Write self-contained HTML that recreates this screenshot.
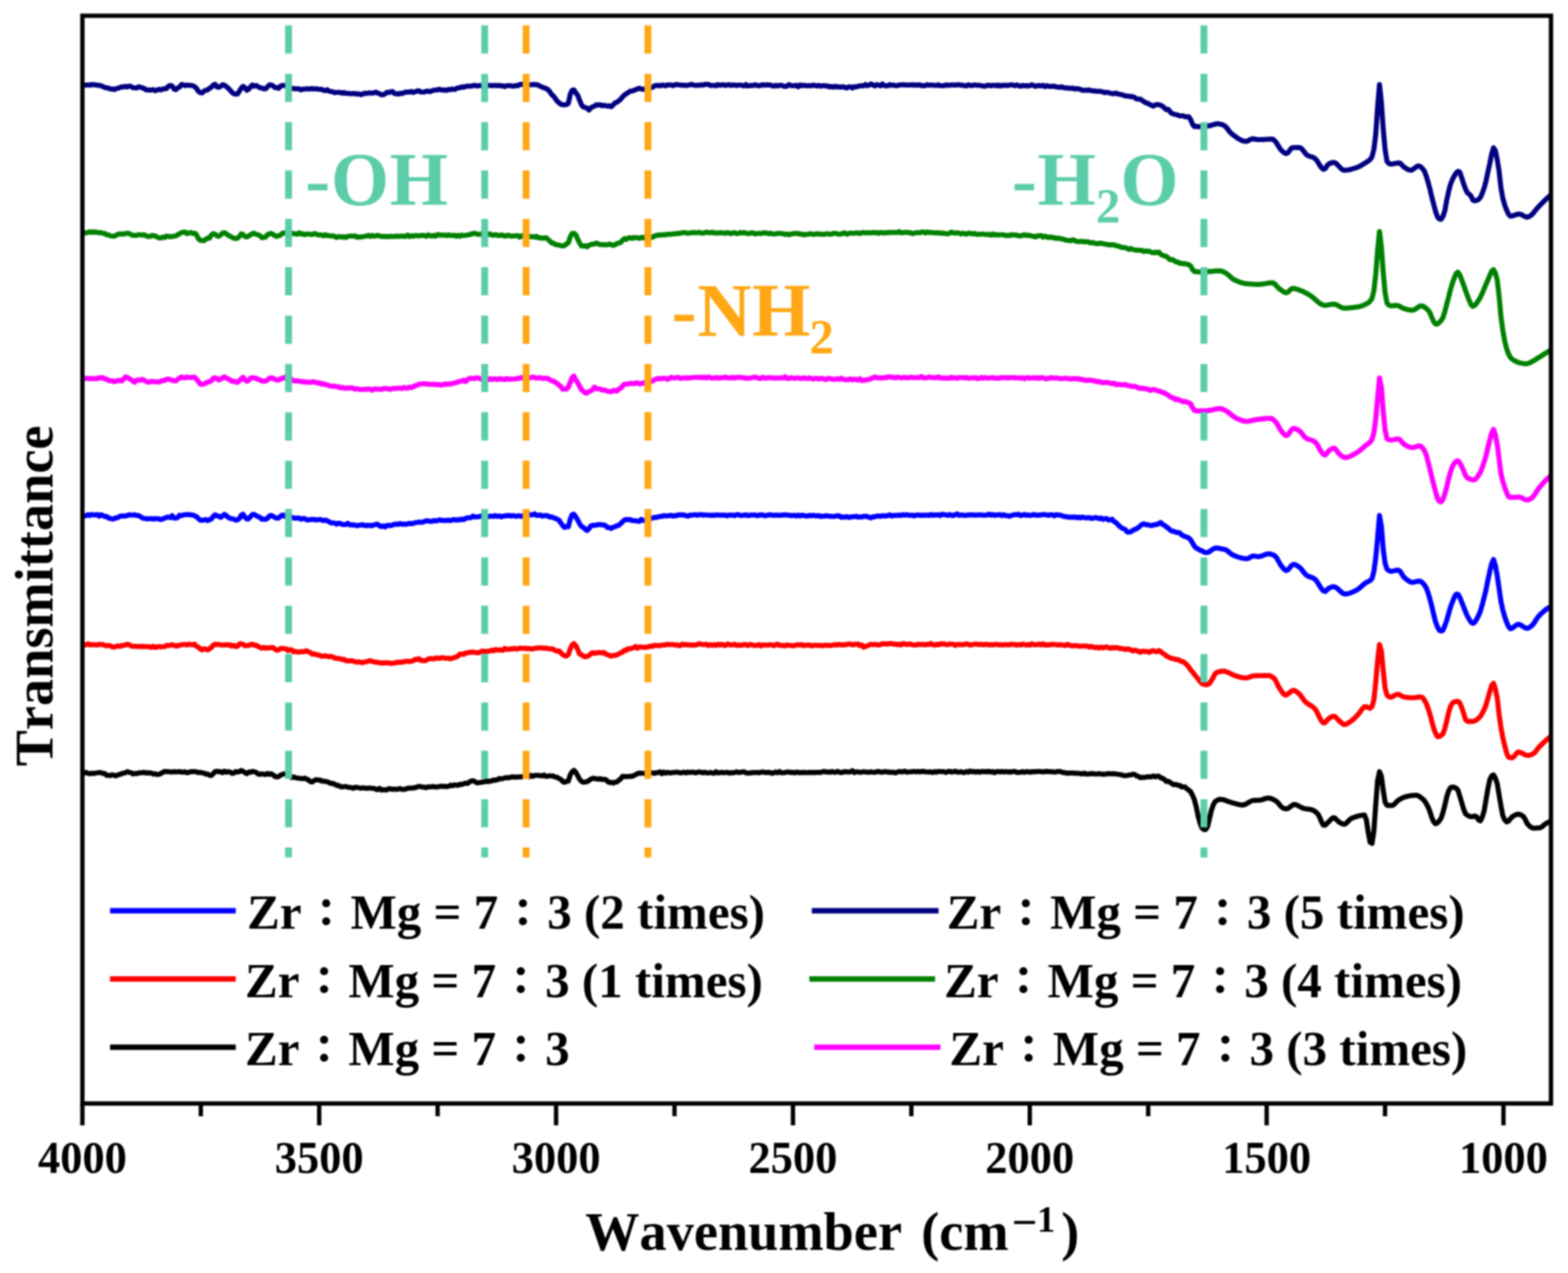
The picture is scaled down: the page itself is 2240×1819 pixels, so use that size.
<!DOCTYPE html>
<html lang="en">
<head>
<meta charset="utf-8">
<title>Transmittance vs Wavenumber</title>
<style>
html,body{margin:0;padding:0;background:#fff;}
body{width:2240px;height:1819px;overflow:hidden;}
svg{display:block;filter:blur(1px);}
text{font-family:"Liberation Serif","Noto Serif CJK SC","Noto Sans CJK JP",serif;font-weight:bold;font-kerning:none;font-variant-ligatures:none;}
.tick{font-size:66.5px;text-anchor:middle;fill:#000;}
.leg{font-size:70px;fill:#000;}
.axl{font-size:77.6px;fill:#000;}
.ann{font-size:107px;letter-spacing:1px;}
.cj{font-family:"Noto Serif CJK SC","Noto Sans CJK JP",serif;font-weight:bold;font-size:64.5px;}
</style>
</head>
<body>
<svg width="2240" height="1819" viewBox="0 0 2240 1819">
<rect x="0" y="0" width="2240" height="1819" fill="#ffffff"/>

<g fill="none" stroke-linejoin="round" stroke-linecap="butt">
<path d="M117.7,1104.1 L120.4,1104.4 L123.0,1103.7 L125.7,1105.0 L128.4,1105.6 L131.1,1104.9 L133.7,1105.2 L136.4,1104.7 L139.1,1104.3 L141.7,1103.8 L144.4,1104.1 L147.1,1105.2 L149.7,1105.3 L152.4,1107.8 L155.1,1107.9 L157.8,1108.1 L160.4,1107.1 L163.1,1107.9 L165.8,1108.7 L168.4,1107.2 L171.1,1106.5 L173.8,1105.5 L176.4,1104.7 L179.1,1104.2 L181.8,1102.7 L184.5,1103.7 L187.1,1104.0 L189.8,1105.9 L192.5,1105.1 L195.1,1105.5 L197.8,1104.6 L200.5,1104.1 L203.1,1104.2 L205.8,1103.6 L208.5,1104.6 L211.2,1104.1 L213.8,1104.6 L216.5,1104.7 L219.2,1106.2 L221.8,1105.5 L224.5,1106.7 L227.2,1106.3 L229.8,1105.3 L232.5,1103.7 L235.2,1102.3 L237.9,1102.7 L240.5,1102.6 L243.2,1103.0 L245.9,1103.1 L248.5,1102.7 L251.2,1102.8 L253.9,1103.0 L256.5,1102.5 L259.2,1103.2 L261.9,1103.3 L264.6,1102.9 L267.2,1104.2 L269.9,1103.4 L272.6,1102.7 L275.2,1102.6 L277.9,1102.7 L280.6,1102.8 L283.2,1104.1 L285.9,1103.5 L288.6,1104.4 L291.3,1104.7 L293.9,1106.2 L296.6,1105.9 L299.3,1107.7 L301.9,1108.2 L304.6,1105.5 L307.3,1102.5 L309.9,1102.0 L312.6,1102.8 L315.3,1102.6 L318.0,1104.1 L320.6,1101.9 L323.3,1103.5 L326.0,1102.7 L328.6,1103.1 L331.3,1104.9 L334.0,1104.8 L336.6,1102.6 L339.3,1103.2 L342.0,1102.6 L344.7,1100.9 L347.3,1102.2 L350.0,1104.2 L352.7,1105.4 L355.3,1103.2 L358.0,1103.4 L360.7,1102.2 L363.3,1102.8 L366.0,1103.7 L368.7,1105.9 L371.4,1106.4 L374.0,1105.7 L376.7,1106.2 L379.4,1106.7 L382.0,1105.1 L384.7,1106.5 L387.4,1105.5 L390.0,1107.2 L392.7,1109.4 L395.4,1110.1 L398.1,1109.7 L400.7,1107.8 L403.4,1106.4 L406.1,1105.8 L408.7,1105.8 L411.4,1107.9 L414.1,1108.5 L416.7,1111.2 L419.4,1110.2 L422.1,1111.2 L424.8,1111.8 L427.4,1112.0 L430.1,1112.5 L432.8,1112.7 L435.4,1111.8 L438.1,1113.5 L440.8,1114.5 L443.4,1117.0 L446.1,1117.3 L448.8,1115.4 L451.5,1114.0 L454.1,1114.6 L456.8,1114.5 L459.5,1116.0 L462.1,1116.2 L464.8,1116.6 L467.5,1117.0 L470.1,1118.2 L472.8,1119.6 L475.5,1119.4 L478.2,1120.6 L480.8,1122.3 L483.5,1122.2 L486.2,1124.1 L488.8,1124.4 L491.5,1124.0 L494.2,1123.8 L496.8,1125.0 L499.5,1125.0 L502.2,1125.6 L504.9,1126.4 L507.5,1124.8 L510.2,1125.3 L512.9,1125.8 L515.5,1126.3 L518.2,1125.9 L520.9,1125.9 L523.5,1126.5 L526.2,1126.1 L528.9,1126.0 L531.6,1126.5 L534.2,1126.5 L536.9,1127.7 L539.6,1128.4 L542.2,1126.4 L544.9,1129.0 L547.6,1128.3 L550.2,1128.6 L552.9,1128.6 L555.6,1126.8 L558.3,1127.4 L560.9,1127.9 L563.6,1127.5 L566.3,1128.1 L568.9,1127.5 L571.6,1126.7 L574.3,1128.0 L576.9,1128.1 L579.6,1127.5 L582.3,1126.3 L585.0,1126.2 L587.6,1126.2 L590.3,1125.7 L593.0,1125.6 L595.6,1124.5 L598.3,1123.7 L601.0,1124.0 L603.6,1124.7 L606.3,1124.8 L609.0,1125.6 L611.7,1124.3 L614.3,1124.4 L617.0,1124.1 L619.7,1123.9 L622.3,1124.6 L625.0,1124.3 L627.7,1123.9 L630.3,1123.3 L633.0,1123.8 L635.7,1123.5 L638.4,1124.1 L641.0,1123.5 L643.7,1121.9 L646.4,1122.8 L649.0,1121.5 L651.7,1121.7 L654.4,1122.1 L657.0,1120.6 L659.7,1121.0 L662.4,1119.9 L665.1,1119.0 L667.7,1119.6 L670.4,1117.5 L673.1,1116.0 L675.7,1115.5 L678.4,1116.8 L681.1,1118.6 L683.7,1118.5 L686.4,1118.0 L689.1,1117.5 L691.8,1117.4 L694.4,1115.9 L697.1,1117.0 L699.8,1116.0 L702.4,1116.0 L705.1,1114.5 L707.8,1114.8 L710.4,1114.2 L713.1,1112.4 L715.8,1112.9 L718.5,1112.5 L721.1,1111.5 L723.8,1111.2 L726.5,1111.3 L729.1,1110.7 L731.8,1109.9 L734.5,1110.6 L737.1,1110.3 L739.8,1110.2 L742.5,1110.0 L745.2,1110.1 L747.8,1109.5 L750.5,1109.1 L753.2,1109.0 L755.8,1110.0 L758.5,1108.0 L761.2,1109.4 L763.8,1108.0 L766.5,1107.8 L769.2,1108.0 L771.9,1108.3 L774.5,1108.8 L777.2,1107.3 L779.9,1109.3 L782.5,1109.1 L785.2,1108.5 L787.9,1108.8 L790.5,1108.8 L793.2,1110.3 L795.9,1110.6 L798.6,1112.5 L801.2,1113.6 L803.9,1116.8 L806.6,1117.8 L809.2,1116.6 L811.9,1116.1 L814.6,1107.3 L817.2,1102.8 L819.9,1100.8 L822.6,1103.7 L825.3,1108.3 L827.9,1113.3 L830.6,1116.5 L833.3,1117.7 L835.9,1117.3 L838.6,1117.0 L841.3,1115.2 L843.9,1113.5 L846.6,1112.1 L849.3,1112.3 L852.0,1113.0 L854.6,1113.5 L857.3,1112.5 L860.0,1113.9 L862.6,1113.5 L865.3,1113.9 L868.0,1116.6 L870.6,1118.2 L873.3,1117.9 L876.0,1119.0 L878.7,1117.5 L881.3,1117.4 L884.0,1115.0 L886.7,1113.0 L889.3,1109.4 L892.0,1109.6 L894.7,1109.5 L897.3,1109.7 L900.0,1109.2 L902.7,1109.3 L905.4,1108.2 L908.0,1106.9 L910.7,1105.4 L913.4,1104.7 L916.0,1105.0 L918.7,1105.0 L921.4,1105.1 L924.0,1104.4 L926.7,1104.1 L929.4,1104.2 L932.1,1104.5 L934.7,1105.1 L937.4,1104.1 L940.1,1104.1 L942.7,1102.8 L945.4,1105.4 L948.1,1103.1 L950.7,1104.9 L953.4,1103.5 L956.1,1104.4 L958.8,1104.3 L961.4,1103.8 L964.1,1103.7 L966.8,1103.2 L969.4,1103.8 L972.1,1104.5 L974.8,1104.0 L977.4,1103.3 L980.1,1104.5 L982.8,1103.1 L985.5,1103.9 L988.1,1103.3 L990.8,1103.3 L993.5,1104.4 L996.1,1103.5 L998.8,1102.9 L1001.5,1103.5 L1004.1,1104.3 L1006.8,1103.4 L1009.5,1104.5 L1012.2,1104.4 L1014.8,1103.8 L1017.5,1104.5 L1020.2,1104.9 L1022.8,1102.6 L1025.5,1104.5 L1028.2,1104.2 L1030.8,1103.6 L1033.5,1104.2 L1036.2,1104.0 L1038.9,1103.5 L1041.5,1104.7 L1044.2,1103.9 L1046.9,1104.5 L1049.5,1103.7 L1052.2,1102.8 L1054.9,1103.9 L1057.5,1103.7 L1060.2,1103.0 L1062.9,1102.8 L1065.6,1104.2 L1068.2,1104.6 L1070.9,1104.6 L1073.6,1104.1 L1076.2,1103.8 L1078.9,1103.9 L1081.6,1103.8 L1084.2,1104.3 L1086.9,1103.5 L1089.6,1103.0 L1092.3,1103.7 L1094.9,1103.9 L1097.6,1103.6 L1100.3,1103.8 L1102.9,1105.1 L1105.6,1104.3 L1108.3,1103.0 L1110.9,1104.2 L1113.6,1102.5 L1116.3,1104.2 L1119.0,1104.1 L1121.6,1103.8 L1124.3,1103.2 L1127.0,1103.2 L1129.6,1104.0 L1132.3,1103.4 L1135.0,1104.3 L1137.6,1103.4 L1140.3,1103.6 L1143.0,1104.3 L1145.7,1103.8 L1148.3,1103.7 L1151.0,1104.0 L1153.7,1104.0 L1156.3,1103.7 L1159.0,1103.9 L1161.7,1103.6 L1164.3,1103.8 L1167.0,1103.5 L1169.7,1103.6 L1172.4,1103.8 L1175.0,1102.7 L1177.7,1102.4 L1180.4,1103.1 L1183.0,1103.1 L1185.7,1103.5 L1188.4,1102.5 L1191.0,1103.3 L1193.7,1103.5 L1196.4,1102.2 L1199.1,1103.4 L1201.7,1104.0 L1204.4,1103.2 L1207.1,1102.6 L1209.7,1102.8 L1212.4,1103.1 L1215.1,1102.8 L1217.7,1101.2 L1220.4,1104.0 L1223.1,1102.8 L1225.8,1103.0 L1228.4,1103.6 L1231.1,1103.2 L1233.8,1102.8 L1236.4,1103.0 L1239.1,1103.4 L1241.8,1103.4 L1244.4,1102.9 L1247.1,1103.5 L1249.8,1103.5 L1252.5,1102.7 L1255.1,1102.4 L1257.8,1103.2 L1260.5,1103.4 L1263.1,1102.7 L1265.8,1102.7 L1268.5,1103.3 L1271.1,1103.1 L1273.8,1103.8 L1276.5,1103.3 L1279.2,1104.4 L1281.8,1103.3 L1284.5,1102.4 L1287.2,1102.8 L1289.8,1102.9 L1292.5,1101.9 L1295.2,1103.3 L1297.8,1103.0 L1300.5,1102.9 L1303.2,1102.6 L1305.9,1102.3 L1308.5,1102.8 L1311.2,1102.4 L1313.9,1102.9 L1316.5,1102.4 L1319.2,1102.1 L1321.9,1103.0 L1324.5,1103.0 L1327.2,1103.2 L1329.9,1102.9 L1332.6,1103.8 L1335.2,1102.5 L1337.9,1103.5 L1340.6,1102.3 L1343.2,1102.5 L1345.9,1102.6 L1348.6,1102.7 L1351.2,1103.8 L1353.9,1102.5 L1356.6,1102.1 L1359.3,1103.3 L1361.9,1102.8 L1364.6,1101.9 L1367.3,1103.1 L1369.9,1103.4 L1372.6,1102.6 L1375.3,1103.8 L1377.9,1103.8 L1380.6,1102.4 L1383.3,1103.4 L1386.0,1101.6 L1388.6,1102.9 L1391.3,1102.4 L1394.0,1103.4 L1396.6,1102.3 L1399.3,1103.4 L1402.0,1102.3 L1404.6,1102.6 L1407.3,1102.4 L1410.0,1103.0 L1412.7,1102.0 L1415.3,1103.2 L1418.0,1102.4 L1420.7,1104.2 L1423.3,1102.7 L1426.0,1102.4 L1428.7,1103.1 L1431.3,1102.3 L1434.0,1103.2 L1436.7,1102.5 L1439.4,1103.1 L1442.0,1102.8 L1444.7,1103.1 L1447.4,1102.4 L1450.0,1102.4 L1452.7,1103.7 L1455.4,1103.6 L1458.0,1103.4 L1460.7,1102.5 L1463.4,1103.6 L1466.1,1102.6 L1468.7,1102.7 L1471.4,1103.4 L1474.1,1102.7 L1476.7,1102.8 L1479.4,1102.6 L1482.1,1102.4 L1484.7,1102.4 L1487.4,1102.6 L1490.1,1102.9 L1492.8,1102.6 L1495.4,1102.1 L1498.1,1102.7 L1500.8,1102.7 L1503.4,1102.8 L1506.1,1103.1 L1508.8,1103.0 L1511.4,1102.3 L1514.1,1102.3 L1516.8,1103.2 L1519.5,1104.0 L1522.1,1104.2 L1524.8,1105.0 L1527.5,1104.5 L1530.1,1104.6 L1532.8,1104.7 L1535.5,1104.8 L1538.1,1104.8 L1540.8,1105.0 L1543.5,1105.4 L1546.2,1106.0 L1548.8,1104.7 L1551.5,1106.2 L1554.2,1105.9 L1556.8,1105.9 L1559.5,1105.4 L1562.2,1105.7 L1564.8,1105.9 L1567.5,1106.0 L1570.2,1105.4 L1572.9,1106.0 L1575.5,1106.3 L1578.2,1106.2 L1580.9,1106.1 L1583.5,1105.3 L1586.2,1105.7 L1588.9,1105.8 L1591.5,1105.5 L1594.2,1106.0 L1596.9,1106.3 L1599.6,1106.7 L1602.2,1107.3 L1604.9,1108.0 L1607.6,1108.3 L1610.2,1108.0 L1612.9,1107.5 L1615.6,1107.2 L1618.2,1106.4 L1620.9,1106.5 L1623.6,1108.7 L1626.3,1109.2 L1628.9,1111.3 L1631.6,1110.7 L1634.3,1110.9 L1636.9,1110.5 L1639.6,1109.8 L1642.3,1110.2 L1644.9,1110.1 L1647.6,1108.8 L1650.3,1110.1 L1653.0,1109.0 L1655.6,1109.2 L1658.3,1111.5 L1661.0,1112.3 L1663.6,1113.9 L1666.3,1116.7 L1669.0,1116.4 L1671.6,1117.9 L1674.3,1119.8 L1677.0,1121.3 L1679.7,1120.8 L1682.3,1122.1 L1685.0,1122.0 L1687.7,1124.4 L1690.3,1124.3 L1693.0,1124.6 L1695.7,1127.2 L1698.3,1129.0 L1701.0,1131.5 L1703.7,1136.6 L1706.4,1143.2 L1709.0,1153.3 L1711.7,1166.5 L1714.4,1176.4 L1717.0,1183.0 L1719.7,1185.3 L1722.4,1185.4 L1725.0,1181.4 L1727.7,1170.6 L1730.4,1158.2 L1733.1,1150.5 L1735.7,1145.5 L1738.4,1143.8 L1741.1,1142.3 L1743.7,1142.2 L1746.4,1142.5 L1749.1,1143.1 L1751.7,1144.1 L1754.4,1145.1 L1757.1,1146.1 L1759.8,1146.9 L1762.4,1147.6 L1765.1,1148.4 L1767.8,1149.1 L1770.4,1149.8 L1773.1,1150.2 L1775.8,1150.3 L1778.4,1149.6 L1781.1,1148.2 L1783.8,1146.6 L1786.5,1145.0 L1789.1,1144.0 L1791.8,1143.7 L1794.5,1143.6 L1797.1,1143.5 L1799.8,1143.3 L1802.5,1142.9 L1805.1,1142.0 L1807.8,1141.0 L1810.5,1140.4 L1813.2,1140.4 L1815.8,1141.1 L1818.5,1142.2 L1821.2,1143.6 L1823.8,1145.3 L1826.5,1148.1 L1829.2,1151.5 L1831.8,1154.0 L1834.5,1155.2 L1837.2,1155.8 L1839.9,1155.3 L1842.5,1153.4 L1845.2,1151.3 L1847.9,1149.7 L1850.5,1149.7 L1853.2,1150.6 L1855.9,1152.0 L1858.5,1153.5 L1861.2,1154.8 L1863.9,1155.5 L1866.6,1155.9 L1869.2,1156.2 L1871.9,1156.6 L1874.6,1157.2 L1877.2,1158.5 L1879.9,1160.5 L1882.6,1163.1 L1885.2,1167.7 L1887.9,1174.4 L1890.6,1179.1 L1893.3,1178.9 L1895.9,1176.4 L1898.6,1173.8 L1901.3,1171.0 L1903.9,1168.7 L1906.6,1168.7 L1909.3,1171.1 L1911.9,1173.9 L1914.6,1175.6 L1917.3,1177.1 L1920.0,1177.8 L1922.6,1176.8 L1925.3,1174.2 L1928.0,1171.3 L1930.6,1169.4 L1933.3,1168.4 L1936.0,1167.4 L1938.6,1166.5 L1941.3,1165.8 L1944.0,1165.2 L1946.7,1164.8 L1949.3,1164.6 L1952.0,1171.8 L1954.7,1189.9 L1957.3,1203.5 L1960.0,1205.1 L1962.7,1187.6 L1965.3,1150.3 L1968.0,1115.3 L1970.7,1102.7 L1973.4,1109.3 L1976.0,1128.9 L1978.7,1146.1 L1981.4,1150.8 L1984.0,1150.8 L1986.7,1150.8 L1989.4,1150.8 L1992.0,1149.2 L1994.7,1146.2 L1997.4,1143.6 L2000.1,1142.0 L2002.7,1140.6 L2005.4,1139.3 L2008.1,1138.4 L2010.7,1137.7 L2013.4,1137.2 L2016.1,1136.8 L2018.7,1136.5 L2021.4,1136.3 L2024.1,1136.4 L2026.8,1137.5 L2029.4,1139.3 L2032.1,1141.4 L2034.8,1144.1 L2037.4,1148.0 L2040.1,1152.9 L2042.8,1159.9 L2045.4,1168.1 L2048.1,1174.2 L2050.8,1177.0 L2053.5,1175.7 L2056.1,1173.0 L2058.8,1169.0 L2061.5,1160.6 L2064.1,1150.5 L2066.8,1138.6 L2069.5,1130.0 L2072.1,1125.7 L2074.8,1124.6 L2077.5,1125.1 L2080.2,1126.3 L2082.8,1129.0 L2085.5,1137.7 L2088.2,1146.9 L2090.8,1155.9 L2093.5,1162.7 L2096.2,1164.8 L2098.8,1166.2 L2101.5,1167.0 L2104.2,1166.8 L2106.9,1165.9 L2109.5,1167.2 L2112.2,1171.7 L2114.9,1172.9 L2117.5,1167.7 L2120.2,1158.6 L2122.9,1142.6 L2125.5,1127.6 L2128.2,1114.4 L2130.9,1108.7 L2133.6,1107.3 L2136.2,1111.8 L2138.9,1119.9 L2141.6,1136.0 L2144.2,1151.5 L2146.9,1165.6 L2149.6,1171.6 L2152.2,1174.4 L2154.9,1173.4 L2157.6,1170.0 L2160.3,1167.1 L2162.9,1165.5 L2165.6,1164.1 L2168.3,1163.3 L2170.9,1163.6 L2173.6,1164.9 L2176.3,1166.8 L2178.9,1170.9 L2181.6,1176.6 L2184.3,1179.7 L2187.0,1182.0 L2189.6,1183.2 L2192.3,1183.3 L2195.0,1183.2 L2197.6,1183.0 L2200.3,1182.8 L2203.0,1181.4 L2205.6,1178.8 L2208.3,1176.8 L2211.0,1175.3 L2213.7,1174.1 L2215.7,1173.3" stroke="#000000" stroke-width="7.2"/>
<path d="M117.7,923.1 L120.4,921.7 L123.0,921.4 L125.7,920.0 L128.4,921.5 L131.1,921.2 L133.7,921.0 L136.4,921.5 L139.1,921.6 L141.7,920.7 L144.4,920.8 L147.1,921.1 L149.7,922.2 L152.4,922.8 L155.1,922.3 L157.8,922.9 L160.4,924.2 L163.1,924.7 L165.8,923.5 L168.4,922.9 L171.1,923.7 L173.8,922.4 L176.4,922.1 L179.1,921.6 L181.8,920.7 L184.5,921.2 L187.1,923.2 L189.8,923.4 L192.5,923.7 L195.1,923.5 L197.8,923.8 L200.5,923.6 L203.1,923.8 L205.8,923.7 L208.5,924.0 L211.2,924.1 L213.8,924.2 L216.5,925.0 L219.2,923.4 L221.8,925.2 L224.5,924.4 L227.2,923.8 L229.8,924.3 L232.5,924.0 L235.2,924.0 L237.9,922.1 L240.5,922.3 L243.2,922.1 L245.9,921.3 L248.5,922.0 L251.2,923.1 L253.9,922.6 L256.5,922.1 L259.2,921.2 L261.9,921.0 L264.6,920.9 L267.2,921.6 L269.9,920.4 L272.6,921.0 L275.2,921.4 L277.9,920.4 L280.6,923.5 L283.2,924.6 L285.9,926.9 L288.6,928.6 L291.3,927.0 L293.9,927.4 L296.6,928.7 L299.3,927.1 L301.9,925.1 L304.6,921.9 L307.3,920.6 L309.9,920.8 L312.6,920.8 L315.3,921.6 L318.0,921.7 L320.6,921.7 L323.3,921.2 L326.0,921.6 L328.6,921.4 L331.3,923.3 L334.0,922.1 L336.6,923.8 L339.3,923.5 L342.0,920.2 L344.7,919.9 L347.3,920.8 L350.0,922.7 L352.7,922.3 L355.3,922.2 L358.0,920.9 L360.7,920.7 L363.3,922.1 L366.0,921.8 L368.7,923.8 L371.4,925.1 L374.0,926.2 L376.7,925.0 L379.4,926.3 L382.0,925.7 L384.7,925.9 L387.4,925.4 L390.0,925.3 L392.7,927.3 L395.4,929.2 L398.1,928.5 L400.7,926.7 L403.4,926.5 L406.1,927.0 L408.7,927.0 L411.4,929.7 L414.1,928.2 L416.7,928.8 L419.4,931.2 L422.1,930.9 L424.8,931.6 L427.4,931.6 L430.1,931.1 L432.8,931.4 L435.4,930.9 L438.1,929.9 L440.8,931.5 L443.4,932.5 L446.1,934.8 L448.8,934.2 L451.5,935.5 L454.1,935.8 L456.8,936.3 L459.5,937.8 L462.1,937.3 L464.8,937.1 L467.5,937.8 L470.1,938.5 L472.8,937.8 L475.5,938.7 L478.2,940.3 L480.8,940.6 L483.5,940.8 L486.2,941.4 L488.8,942.3 L491.5,942.1 L494.2,944.2 L496.8,944.2 L499.5,944.5 L502.2,944.0 L504.9,944.7 L507.5,945.8 L510.2,945.9 L512.9,945.7 L515.5,946.5 L518.2,946.8 L520.9,945.9 L523.5,945.5 L526.2,944.7 L528.9,944.0 L531.6,945.1 L534.2,945.6 L536.9,946.4 L539.6,946.3 L542.2,946.9 L544.9,947.5 L547.6,947.2 L550.2,947.4 L552.9,946.8 L555.6,947.4 L558.3,947.9 L560.9,947.6 L563.6,947.5 L566.3,946.4 L568.9,946.7 L571.6,945.8 L574.3,946.4 L576.9,945.4 L579.6,945.1 L582.3,944.8 L585.0,945.3 L587.6,944.7 L590.3,944.1 L593.0,942.4 L595.6,942.4 L598.3,941.2 L601.0,943.7 L603.6,943.7 L606.3,944.1 L609.0,943.5 L611.7,941.8 L614.3,941.1 L617.0,941.2 L619.7,941.7 L622.3,940.1 L625.0,940.4 L627.7,940.8 L630.3,939.8 L633.0,939.8 L635.7,940.5 L638.4,940.7 L641.0,940.4 L643.7,941.4 L646.4,940.2 L649.0,939.7 L651.7,938.7 L654.4,937.3 L657.0,934.6 L659.7,934.6 L662.4,935.0 L665.1,933.0 L667.7,932.8 L670.4,932.2 L673.1,931.8 L675.7,931.7 L678.4,932.2 L681.1,932.6 L683.7,932.6 L686.4,931.5 L689.1,930.1 L691.8,931.0 L694.4,930.6 L697.1,930.7 L699.8,930.2 L702.4,928.9 L705.1,929.9 L707.8,928.1 L710.4,928.6 L713.1,928.9 L715.8,928.7 L718.5,929.1 L721.1,926.5 L723.8,927.9 L726.5,927.9 L729.1,927.1 L731.8,927.5 L734.5,926.4 L737.1,927.4 L739.8,927.2 L742.5,926.2 L745.2,926.3 L747.8,926.6 L750.5,926.2 L753.2,927.2 L755.8,926.6 L758.5,927.3 L761.2,927.1 L763.8,926.4 L766.5,926.2 L769.2,925.8 L771.9,925.8 L774.5,925.8 L777.2,926.5 L779.9,925.9 L782.5,926.7 L785.2,927.1 L787.9,927.1 L790.5,927.8 L793.2,929.4 L795.9,930.3 L798.6,930.0 L801.2,932.9 L803.9,935.5 L806.6,936.9 L809.2,937.5 L811.9,935.3 L814.6,927.2 L817.2,921.7 L819.9,919.7 L822.6,922.6 L825.3,928.0 L827.9,934.3 L830.6,935.6 L833.3,937.4 L835.9,938.5 L838.6,938.2 L841.3,936.6 L843.9,934.3 L846.6,932.5 L849.3,933.5 L852.0,933.1 L854.6,932.3 L857.3,932.7 L860.0,932.9 L862.6,932.4 L865.3,934.6 L868.0,935.4 L870.6,936.7 L873.3,937.4 L876.0,936.6 L878.7,936.4 L881.3,935.7 L884.0,934.5 L886.7,932.8 L889.3,932.1 L892.0,929.2 L894.7,929.2 L897.3,926.9 L900.0,927.2 L902.7,926.3 L905.4,925.3 L908.0,923.8 L910.7,926.2 L913.4,924.4 L916.0,924.4 L918.7,925.0 L921.4,924.8 L924.0,924.8 L926.7,924.3 L929.4,923.0 L932.1,923.8 L934.7,922.1 L937.4,922.3 L940.1,922.4 L942.7,922.7 L945.4,921.8 L948.1,921.6 L950.7,921.6 L953.4,920.6 L956.1,921.2 L958.8,921.0 L961.4,920.9 L964.1,921.6 L966.8,921.3 L969.4,922.4 L972.1,922.3 L974.8,920.3 L977.4,921.4 L980.1,920.8 L982.8,921.7 L985.5,921.4 L988.1,921.9 L990.8,921.5 L993.5,921.8 L996.1,921.1 L998.8,919.8 L1001.5,920.6 L1004.1,920.8 L1006.8,921.0 L1009.5,920.7 L1012.2,922.3 L1014.8,921.2 L1017.5,922.1 L1020.2,921.1 L1022.8,922.3 L1025.5,920.6 L1028.2,921.7 L1030.8,920.6 L1033.5,921.7 L1036.2,922.4 L1038.9,920.4 L1041.5,920.9 L1044.2,921.6 L1046.9,921.3 L1049.5,920.6 L1052.2,922.2 L1054.9,921.5 L1057.5,922.3 L1060.2,921.7 L1062.9,920.9 L1065.6,921.3 L1068.2,922.4 L1070.9,920.8 L1073.6,921.3 L1076.2,922.0 L1078.9,922.3 L1081.6,922.2 L1084.2,920.8 L1086.9,923.0 L1089.6,921.6 L1092.3,921.7 L1094.9,921.8 L1097.6,921.6 L1100.3,921.2 L1102.9,921.6 L1105.6,922.6 L1108.3,921.0 L1110.9,920.4 L1113.6,922.2 L1116.3,922.1 L1119.0,922.3 L1121.6,922.9 L1124.3,921.5 L1127.0,922.0 L1129.6,922.3 L1132.3,922.7 L1135.0,922.6 L1137.6,921.5 L1140.3,921.2 L1143.0,921.8 L1145.7,921.0 L1148.3,922.7 L1151.0,921.8 L1153.7,921.8 L1156.3,921.5 L1159.0,923.0 L1161.7,922.2 L1164.3,921.8 L1167.0,922.4 L1169.7,922.0 L1172.4,922.4 L1175.0,922.8 L1177.7,921.8 L1180.4,922.2 L1183.0,922.1 L1185.7,922.4 L1188.4,922.0 L1191.0,921.6 L1193.7,921.1 L1196.4,921.6 L1199.1,920.7 L1201.7,921.6 L1204.4,921.2 L1207.1,921.4 L1209.7,920.7 L1212.4,920.4 L1215.1,920.3 L1217.7,921.5 L1220.4,920.7 L1223.1,920.7 L1225.8,920.2 L1228.4,922.4 L1231.1,921.6 L1233.8,924.9 L1236.4,923.5 L1239.1,923.0 L1241.8,921.3 L1244.4,920.7 L1247.1,921.2 L1249.8,920.7 L1252.5,921.1 L1255.1,921.6 L1257.8,921.2 L1260.5,919.7 L1263.1,920.2 L1265.8,920.1 L1268.5,920.3 L1271.1,919.6 L1273.8,919.6 L1276.5,920.4 L1279.2,920.4 L1281.8,921.1 L1284.5,920.6 L1287.2,921.7 L1289.8,919.7 L1292.5,920.0 L1295.2,921.0 L1297.8,920.6 L1300.5,920.2 L1303.2,921.3 L1305.9,921.5 L1308.5,921.6 L1311.2,920.6 L1313.9,920.8 L1316.5,921.0 L1319.2,920.9 L1321.9,921.4 L1324.5,920.5 L1327.2,921.0 L1329.9,919.5 L1332.6,921.3 L1335.2,921.8 L1337.9,920.8 L1340.6,921.5 L1343.2,919.8 L1345.9,920.6 L1348.6,919.9 L1351.2,921.0 L1353.9,921.2 L1356.6,920.0 L1359.3,920.3 L1361.9,920.5 L1364.6,922.3 L1367.3,920.8 L1369.9,920.9 L1372.6,921.1 L1375.3,921.1 L1377.9,920.7 L1380.6,920.1 L1383.3,920.5 L1386.0,921.9 L1388.6,921.1 L1391.3,920.7 L1394.0,920.1 L1396.6,920.9 L1399.3,920.9 L1402.0,920.5 L1404.6,921.5 L1407.3,920.6 L1410.0,920.8 L1412.7,921.5 L1415.3,921.1 L1418.0,921.6 L1420.7,920.8 L1423.3,920.7 L1426.0,921.3 L1428.7,921.1 L1431.3,921.7 L1434.0,921.2 L1436.7,921.0 L1439.4,921.3 L1442.0,921.4 L1444.7,920.4 L1447.4,921.0 L1450.0,920.8 L1452.7,921.8 L1455.4,920.8 L1458.0,921.7 L1460.7,920.3 L1463.4,921.1 L1466.1,921.7 L1468.7,921.0 L1471.4,921.8 L1474.1,919.9 L1476.7,921.2 L1479.4,921.2 L1482.1,921.1 L1484.7,920.3 L1487.4,921.6 L1490.1,919.8 L1492.8,921.8 L1495.4,921.4 L1498.1,921.8 L1500.8,921.1 L1503.4,920.6 L1506.1,921.0 L1508.8,921.0 L1511.4,921.7 L1514.1,921.1 L1516.8,921.6 L1519.5,921.8 L1522.1,922.5 L1524.8,920.6 L1527.5,921.8 L1530.1,922.7 L1532.8,922.9 L1535.5,922.4 L1538.1,922.8 L1540.8,923.1 L1543.5,923.4 L1546.2,923.1 L1548.8,923.2 L1551.5,923.1 L1554.2,923.6 L1556.8,924.8 L1559.5,923.5 L1562.2,924.8 L1564.8,925.5 L1567.5,924.6 L1570.2,926.0 L1572.9,924.6 L1575.5,925.8 L1578.2,924.9 L1580.9,924.3 L1583.5,925.4 L1586.2,926.5 L1588.9,925.2 L1591.5,926.0 L1594.2,925.3 L1596.9,925.6 L1599.6,926.7 L1602.2,926.6 L1604.9,927.3 L1607.6,928.1 L1610.2,927.0 L1612.9,927.7 L1615.6,928.5 L1618.2,930.2 L1620.9,929.1 L1623.6,929.6 L1626.3,930.6 L1628.9,932.0 L1631.6,930.5 L1634.3,930.7 L1636.9,930.9 L1639.6,931.3 L1642.3,932.1 L1644.9,930.1 L1647.6,929.8 L1650.3,930.9 L1653.0,931.2 L1655.6,929.5 L1658.3,931.1 L1661.0,933.6 L1663.6,934.9 L1666.3,937.5 L1669.0,938.7 L1671.6,940.0 L1674.3,940.7 L1677.0,941.4 L1679.7,942.5 L1682.3,942.4 L1685.0,943.6 L1687.7,945.0 L1690.3,945.6 L1693.0,947.7 L1695.7,950.2 L1698.3,953.2 L1701.0,957.4 L1703.7,960.0 L1706.4,963.9 L1709.0,967.0 L1711.7,970.2 L1714.4,973.9 L1717.0,976.8 L1719.7,977.6 L1722.4,978.3 L1725.0,978.1 L1727.7,976.7 L1730.4,972.7 L1733.1,968.2 L1735.7,963.0 L1738.4,960.7 L1741.1,959.9 L1743.7,959.4 L1746.4,959.1 L1749.1,959.1 L1751.7,959.8 L1754.4,960.8 L1757.1,962.1 L1759.8,963.5 L1762.4,964.8 L1765.1,965.7 L1767.8,966.5 L1770.4,967.2 L1773.1,967.9 L1775.8,968.4 L1778.4,968.7 L1781.1,968.7 L1783.8,968.0 L1786.5,966.9 L1789.1,966.0 L1791.8,965.7 L1794.5,965.6 L1797.1,965.5 L1799.8,965.5 L1802.5,965.4 L1805.1,965.4 L1807.8,965.3 L1810.5,965.3 L1813.2,965.3 L1815.8,966.2 L1818.5,968.0 L1821.2,970.5 L1823.8,975.4 L1826.5,981.1 L1829.2,985.3 L1831.8,989.4 L1834.5,992.4 L1837.2,993.2 L1839.9,991.8 L1842.5,989.5 L1845.2,987.3 L1847.9,986.3 L1850.5,987.2 L1853.2,989.1 L1855.9,991.3 L1858.5,994.4 L1861.2,998.2 L1863.9,1001.8 L1866.6,1004.4 L1869.2,1006.2 L1871.9,1007.8 L1874.6,1009.5 L1877.2,1011.5 L1879.9,1014.8 L1882.6,1019.9 L1885.2,1025.5 L1887.9,1030.3 L1890.6,1033.1 L1893.3,1032.4 L1895.9,1029.0 L1898.6,1026.5 L1901.3,1024.7 L1903.9,1023.5 L1906.6,1023.6 L1909.3,1025.9 L1911.9,1028.8 L1914.6,1031.2 L1917.3,1033.8 L1920.0,1035.3 L1922.6,1034.9 L1925.3,1033.6 L1928.0,1031.9 L1930.6,1030.1 L1933.3,1027.9 L1936.0,1025.3 L1938.6,1022.5 L1941.3,1019.6 L1944.0,1015.8 L1946.7,1012.1 L1949.3,1009.8 L1952.0,1009.9 L1954.7,1011.1 L1957.3,1012.0 L1960.0,1009.6 L1962.7,1000.1 L1965.3,975.4 L1968.0,943.6 L1970.7,921.0 L1973.4,930.2 L1976.0,957.9 L1978.7,983.4 L1981.4,993.1 L1984.0,995.5 L1986.7,996.3 L1989.4,995.5 L1992.0,993.9 L1994.7,992.4 L1997.4,992.1 L2000.1,993.2 L2002.7,994.8 L2005.4,995.8 L2008.1,996.2 L2010.7,996.6 L2013.4,996.9 L2016.1,997.0 L2018.7,997.0 L2021.4,996.8 L2024.1,996.4 L2026.8,996.0 L2029.4,995.8 L2032.1,996.7 L2034.8,1000.3 L2037.4,1005.0 L2040.1,1012.2 L2042.8,1020.7 L2045.4,1030.6 L2048.1,1040.6 L2050.8,1047.7 L2053.5,1052.6 L2056.1,1052.4 L2058.8,1050.9 L2061.5,1048.4 L2064.1,1040.9 L2066.8,1029.8 L2069.5,1018.0 L2072.1,1009.5 L2074.8,1004.8 L2077.5,1003.0 L2080.2,1002.3 L2082.8,1002.1 L2085.5,1004.5 L2088.2,1011.1 L2090.8,1018.8 L2093.5,1028.1 L2096.2,1030.8 L2098.8,1030.8 L2101.5,1030.8 L2104.2,1030.8 L2106.9,1030.1 L2109.5,1028.5 L2112.2,1026.3 L2114.9,1023.5 L2117.5,1019.2 L2120.2,1013.8 L2122.9,1007.3 L2125.5,998.0 L2128.2,988.4 L2130.9,979.6 L2133.6,976.3 L2136.2,984.0 L2138.9,997.4 L2141.6,1021.2 L2144.2,1039.6 L2146.9,1054.0 L2149.6,1065.3 L2152.2,1075.7 L2154.9,1081.8 L2157.6,1082.6 L2160.3,1082.8 L2162.9,1081.0 L2165.6,1077.4 L2168.3,1074.7 L2170.9,1074.8 L2173.6,1075.8 L2176.3,1077.2 L2178.9,1078.6 L2181.6,1079.4 L2184.3,1079.4 L2187.0,1078.6 L2189.6,1077.4 L2192.3,1075.5 L2195.0,1072.2 L2197.6,1068.7 L2200.3,1065.8 L2203.0,1063.1 L2205.6,1060.6 L2208.3,1058.1 L2211.0,1055.8 L2213.7,1053.6 L2215.7,1052.0" stroke="#FF0000" stroke-width="7.2"/>
<path d="M117.7,738.1 L120.4,736.8 L123.0,736.9 L125.7,735.4 L128.4,736.6 L131.1,735.1 L133.7,735.9 L136.4,735.8 L139.1,735.3 L141.7,737.5 L144.4,735.5 L147.1,736.8 L149.7,738.1 L152.4,737.8 L155.1,740.4 L157.8,740.6 L160.4,741.9 L163.1,741.0 L165.8,740.0 L168.4,739.6 L171.1,737.7 L173.8,737.1 L176.4,737.4 L179.1,737.4 L181.8,736.4 L184.5,735.7 L187.1,736.0 L189.8,736.0 L192.5,735.7 L195.1,736.7 L197.8,736.7 L200.5,738.0 L203.1,740.0 L205.8,740.7 L208.5,741.1 L211.2,741.5 L213.8,741.0 L216.5,741.1 L219.2,741.6 L221.8,741.1 L224.5,741.2 L227.2,741.5 L229.8,742.4 L232.5,741.5 L235.2,740.4 L237.9,739.3 L240.5,738.8 L243.2,739.7 L245.9,736.8 L248.5,740.2 L251.2,740.3 L253.9,739.4 L256.5,736.2 L259.2,736.7 L261.9,735.9 L264.6,735.3 L267.2,735.5 L269.9,735.2 L272.6,735.8 L275.2,735.9 L277.9,736.9 L280.6,738.2 L283.2,740.7 L285.9,743.1 L288.6,743.3 L291.3,743.2 L293.9,742.3 L296.6,743.9 L299.3,742.6 L301.9,741.6 L304.6,737.9 L307.3,735.6 L309.9,737.3 L312.6,737.4 L315.3,739.3 L318.0,737.4 L320.6,735.0 L323.3,736.8 L326.0,739.2 L328.6,740.8 L331.3,741.3 L334.0,741.8 L336.6,743.1 L339.3,742.9 L342.0,740.9 L344.7,736.1 L347.3,734.8 L350.0,739.1 L352.7,741.6 L355.3,741.3 L358.0,738.1 L360.7,735.0 L363.3,735.0 L366.0,736.9 L368.7,738.2 L371.4,739.3 L374.0,742.0 L376.7,741.7 L379.4,742.2 L382.0,740.7 L384.7,737.3 L387.4,736.3 L390.0,737.9 L392.7,739.4 L395.4,740.5 L398.1,740.1 L400.7,737.8 L403.4,735.9 L406.1,737.6 L408.7,735.8 L411.4,737.6 L414.1,737.2 L416.7,739.3 L419.4,740.1 L422.1,740.4 L424.8,740.3 L427.4,740.2 L430.1,741.9 L432.8,740.8 L435.4,741.0 L438.1,742.9 L440.8,743.0 L443.4,742.3 L446.1,742.3 L448.8,742.2 L451.5,743.0 L454.1,742.7 L456.8,742.3 L459.5,743.0 L462.1,743.9 L464.8,743.2 L467.5,744.1 L470.1,745.5 L472.8,747.2 L475.5,747.0 L478.2,747.5 L480.8,749.0 L483.5,747.5 L486.2,748.0 L488.8,749.2 L491.5,749.6 L494.2,749.4 L496.8,747.7 L499.5,749.9 L502.2,750.1 L504.9,749.9 L507.5,750.5 L510.2,751.2 L512.9,750.5 L515.5,750.1 L518.2,749.8 L520.9,751.1 L523.5,750.7 L526.2,750.9 L528.9,750.6 L531.6,751.2 L534.2,750.2 L536.9,749.3 L539.6,749.0 L542.2,751.5 L544.9,752.4 L547.6,751.3 L550.2,753.0 L552.9,750.8 L555.6,750.6 L558.3,751.1 L560.9,750.2 L563.6,749.1 L566.3,748.8 L568.9,749.4 L571.6,748.0 L574.3,749.2 L576.9,748.7 L579.6,749.2 L582.3,748.6 L585.0,747.8 L587.6,748.4 L590.3,747.8 L593.0,746.8 L595.6,746.5 L598.3,746.1 L601.0,746.2 L603.6,746.1 L606.3,745.2 L609.0,744.1 L611.7,744.4 L614.3,744.8 L617.0,745.1 L619.7,743.8 L622.3,744.5 L625.0,744.0 L627.7,742.9 L630.3,743.4 L633.0,743.8 L635.7,743.7 L638.4,743.6 L641.0,743.4 L643.7,743.8 L646.4,742.8 L649.0,742.3 L651.7,743.3 L654.4,742.4 L657.0,742.9 L659.7,741.7 L662.4,742.6 L665.1,740.7 L667.7,739.9 L670.4,739.9 L673.1,739.6 L675.7,737.4 L678.4,738.7 L681.1,738.7 L683.7,738.3 L686.4,737.7 L689.1,736.5 L691.8,736.9 L694.4,737.3 L697.1,738.1 L699.8,737.7 L702.4,737.4 L705.1,737.8 L707.8,736.7 L710.4,737.9 L713.1,737.1 L715.8,738.4 L718.5,737.7 L721.1,737.1 L723.8,737.1 L726.5,736.4 L729.1,737.4 L731.8,736.7 L734.5,737.1 L737.1,737.8 L739.8,737.2 L742.5,737.1 L745.2,738.0 L747.8,736.5 L750.5,736.5 L753.2,735.6 L755.8,735.1 L758.5,736.0 L761.2,735.3 L763.8,734.2 L766.5,736.5 L769.2,736.5 L771.9,735.8 L774.5,737.4 L777.2,736.8 L779.9,736.8 L782.5,736.9 L785.2,738.8 L787.9,738.6 L790.5,739.6 L793.2,740.7 L795.9,741.8 L798.6,743.3 L801.2,747.4 L803.9,750.9 L806.6,753.7 L809.2,752.3 L811.9,752.6 L814.6,742.1 L817.2,735.6 L819.9,734.7 L822.6,738.7 L825.3,743.2 L827.9,748.2 L830.6,752.1 L833.3,753.6 L835.9,756.0 L838.6,758.0 L841.3,755.5 L843.9,751.6 L846.6,750.7 L849.3,750.6 L852.0,750.3 L854.6,749.6 L857.3,749.7 L860.0,750.0 L862.6,750.2 L865.3,751.3 L868.0,754.0 L870.6,753.9 L873.3,755.2 L876.0,753.2 L878.7,752.7 L881.3,751.1 L884.0,750.7 L886.7,748.2 L889.3,745.7 L892.0,743.1 L894.7,742.2 L897.3,742.8 L900.0,742.3 L902.7,743.7 L905.4,744.0 L908.0,744.1 L910.7,744.7 L913.4,745.0 L916.0,742.2 L918.7,743.6 L921.4,743.6 L924.0,741.8 L926.7,741.8 L929.4,741.2 L932.1,740.2 L934.7,739.3 L937.4,739.3 L940.1,738.7 L942.7,737.8 L945.4,737.9 L948.1,736.8 L950.7,737.1 L953.4,737.1 L956.1,736.9 L958.8,736.4 L961.4,737.4 L964.1,736.7 L966.8,736.8 L969.4,735.5 L972.1,735.9 L974.8,735.7 L977.4,735.9 L980.1,737.0 L982.8,737.5 L985.5,736.0 L988.1,736.1 L990.8,735.7 L993.5,735.5 L996.1,736.3 L998.8,735.6 L1001.5,735.2 L1004.1,736.2 L1006.8,735.7 L1009.5,736.0 L1012.2,736.0 L1014.8,736.4 L1017.5,736.2 L1020.2,736.4 L1022.8,735.8 L1025.5,735.8 L1028.2,736.1 L1030.8,736.0 L1033.5,736.2 L1036.2,736.1 L1038.9,737.2 L1041.5,735.8 L1044.2,736.2 L1046.9,736.0 L1049.5,736.8 L1052.2,735.5 L1054.9,735.3 L1057.5,736.7 L1060.2,736.5 L1062.9,736.2 L1065.6,735.6 L1068.2,736.8 L1070.9,736.4 L1073.6,735.8 L1076.2,735.8 L1078.9,735.8 L1081.6,737.0 L1084.2,736.1 L1086.9,735.6 L1089.6,735.9 L1092.3,736.9 L1094.9,736.6 L1097.6,735.9 L1100.3,735.6 L1102.9,736.0 L1105.6,736.5 L1108.3,736.1 L1110.9,736.1 L1113.6,736.5 L1116.3,736.1 L1119.0,735.8 L1121.6,735.7 L1124.3,736.0 L1127.0,736.1 L1129.6,736.8 L1132.3,736.7 L1135.0,736.2 L1137.6,737.4 L1140.3,736.0 L1143.0,737.3 L1145.7,736.1 L1148.3,736.6 L1151.0,737.3 L1153.7,737.4 L1156.3,736.4 L1159.0,737.0 L1161.7,736.3 L1164.3,736.9 L1167.0,737.3 L1169.7,736.7 L1172.4,738.0 L1175.0,737.5 L1177.7,737.6 L1180.4,736.9 L1183.0,737.3 L1185.7,737.6 L1188.4,738.0 L1191.0,738.0 L1193.7,737.4 L1196.4,737.2 L1199.1,737.1 L1201.7,739.2 L1204.4,738.7 L1207.1,738.9 L1209.7,738.1 L1212.4,739.5 L1215.1,738.6 L1217.7,738.5 L1220.4,738.2 L1223.1,737.7 L1225.8,739.0 L1228.4,738.7 L1231.1,738.7 L1233.8,737.9 L1236.4,737.6 L1239.1,738.1 L1241.8,739.3 L1244.4,739.9 L1247.1,738.3 L1249.8,738.3 L1252.5,737.3 L1255.1,737.4 L1257.8,737.8 L1260.5,736.8 L1263.1,737.1 L1265.8,737.5 L1268.5,736.4 L1271.1,735.7 L1273.8,737.3 L1276.5,736.6 L1279.2,736.4 L1281.8,736.4 L1284.5,736.1 L1287.2,736.6 L1289.8,735.4 L1292.5,736.2 L1295.2,735.5 L1297.8,736.1 L1300.5,736.5 L1303.2,736.0 L1305.9,737.2 L1308.5,736.1 L1311.2,735.7 L1313.9,736.3 L1316.5,736.2 L1319.2,736.3 L1321.9,736.1 L1324.5,736.0 L1327.2,736.6 L1329.9,735.1 L1332.6,736.5 L1335.2,735.7 L1337.9,736.0 L1340.6,735.5 L1343.2,736.8 L1345.9,734.8 L1348.6,735.2 L1351.2,735.7 L1353.9,736.4 L1356.6,735.2 L1359.3,736.3 L1361.9,736.6 L1364.6,735.4 L1367.3,734.4 L1369.9,736.4 L1372.6,735.8 L1375.3,735.9 L1377.9,736.6 L1380.6,736.4 L1383.3,735.6 L1386.0,736.0 L1388.6,735.4 L1391.3,736.2 L1394.0,735.8 L1396.6,736.2 L1399.3,735.5 L1402.0,736.0 L1404.6,736.1 L1407.3,736.2 L1410.0,735.9 L1412.7,734.6 L1415.3,736.2 L1418.0,735.1 L1420.7,736.5 L1423.3,735.8 L1426.0,735.8 L1428.7,735.4 L1431.3,736.9 L1434.0,735.4 L1436.7,736.7 L1439.4,736.8 L1442.0,737.7 L1444.7,736.7 L1447.4,735.8 L1450.0,735.3 L1452.7,735.4 L1455.4,734.9 L1458.0,736.7 L1460.7,736.0 L1463.4,735.2 L1466.1,736.3 L1468.7,735.9 L1471.4,736.5 L1474.1,736.1 L1476.7,735.2 L1479.4,735.9 L1482.1,736.4 L1484.7,735.9 L1487.4,735.9 L1490.1,735.1 L1492.8,735.5 L1495.4,735.9 L1498.1,736.3 L1500.8,735.5 L1503.4,735.6 L1506.1,737.1 L1508.8,735.4 L1511.4,736.0 L1514.1,735.9 L1516.8,736.9 L1519.5,737.8 L1522.1,738.3 L1524.8,738.4 L1527.5,739.3 L1530.1,738.8 L1532.8,739.3 L1535.5,738.5 L1538.1,739.8 L1540.8,738.9 L1543.5,740.1 L1546.2,738.8 L1548.8,739.7 L1551.5,739.8 L1554.2,739.8 L1556.8,739.7 L1559.5,740.8 L1562.2,740.2 L1564.8,739.4 L1567.5,740.0 L1570.2,741.2 L1572.9,740.2 L1575.5,742.2 L1578.2,741.3 L1580.9,740.9 L1583.5,743.1 L1586.2,742.7 L1588.9,741.8 L1591.5,745.3 L1594.2,746.5 L1596.9,749.6 L1599.6,752.2 L1602.2,754.3 L1604.9,755.5 L1607.6,756.7 L1610.2,760.2 L1612.9,760.3 L1615.6,759.9 L1618.2,757.8 L1620.9,756.7 L1623.6,755.7 L1626.3,753.6 L1628.9,751.6 L1631.6,749.3 L1634.3,748.5 L1636.9,749.8 L1639.6,749.7 L1642.3,750.7 L1644.9,751.0 L1647.6,750.2 L1650.3,749.6 L1653.0,749.3 L1655.6,747.8 L1658.3,746.7 L1661.0,749.5 L1663.6,750.7 L1666.3,752.9 L1669.0,754.8 L1671.6,757.3 L1674.3,758.9 L1677.0,759.4 L1679.7,760.5 L1682.3,760.9 L1685.0,761.3 L1687.7,763.8 L1690.3,765.7 L1693.0,766.7 L1695.7,767.6 L1698.3,768.8 L1701.0,771.3 L1703.7,776.1 L1706.4,780.6 L1709.0,783.3 L1711.7,784.5 L1714.4,786.3 L1717.0,787.0 L1719.7,788.8 L1722.4,789.5 L1725.0,789.3 L1727.7,788.3 L1730.4,786.2 L1733.1,784.4 L1735.7,783.2 L1738.4,783.2 L1741.1,783.3 L1743.7,784.0 L1746.4,784.5 L1749.1,785.0 L1751.7,785.9 L1754.4,787.8 L1757.1,790.2 L1759.8,792.3 L1762.4,793.6 L1765.1,794.6 L1767.8,795.6 L1770.4,796.4 L1773.1,797.2 L1775.8,797.7 L1778.4,798.1 L1781.1,798.3 L1783.8,797.7 L1786.5,796.1 L1789.1,794.7 L1791.8,794.6 L1794.5,795.0 L1797.1,795.3 L1799.8,795.1 L1802.5,794.4 L1805.1,793.4 L1807.8,792.3 L1810.5,791.6 L1813.2,791.3 L1815.8,791.8 L1818.5,792.9 L1821.2,794.3 L1823.8,797.1 L1826.5,801.9 L1829.2,806.8 L1831.8,810.2 L1834.5,813.4 L1837.2,815.2 L1839.9,814.3 L1842.5,811.2 L1845.2,807.8 L1847.9,806.3 L1850.5,806.9 L1853.2,808.4 L1855.9,810.3 L1858.5,812.6 L1861.2,816.0 L1863.9,819.5 L1866.6,822.1 L1869.2,823.5 L1871.9,824.5 L1874.6,825.4 L1877.2,826.7 L1879.9,829.0 L1882.6,832.8 L1885.2,837.3 L1887.9,841.4 L1890.6,844.4 L1893.3,845.2 L1895.9,842.6 L1898.6,840.4 L1901.3,839.2 L1903.9,838.4 L1906.6,838.5 L1909.3,839.9 L1911.9,842.1 L1914.6,844.7 L1917.3,847.0 L1920.0,848.5 L1922.6,848.8 L1925.3,848.4 L1928.0,847.6 L1930.6,846.7 L1933.3,845.5 L1936.0,844.2 L1938.6,842.9 L1941.3,841.0 L1944.0,838.7 L1946.7,836.3 L1949.3,834.0 L1952.0,832.3 L1954.7,831.0 L1957.3,829.5 L1960.0,826.8 L1962.7,816.4 L1965.3,797.6 L1968.0,768.5 L1970.7,736.6 L1973.4,752.2 L1976.0,784.5 L1978.7,805.0 L1981.4,813.1 L1984.0,815.4 L1986.7,816.3 L1989.4,816.0 L1992.0,815.5 L1994.7,814.9 L1997.4,814.6 L2000.1,816.1 L2002.7,820.3 L2005.4,824.6 L2008.1,827.0 L2010.7,829.0 L2013.4,830.8 L2016.1,831.8 L2018.7,832.0 L2021.4,831.5 L2024.1,830.8 L2026.8,830.4 L2029.4,830.7 L2032.1,832.7 L2034.8,835.8 L2037.4,839.8 L2040.1,847.0 L2042.8,856.3 L2045.4,866.1 L2048.1,878.0 L2050.8,888.5 L2053.5,895.7 L2056.1,900.5 L2058.8,901.9 L2061.5,900.5 L2064.1,893.9 L2066.8,886.4 L2069.5,876.7 L2072.1,867.6 L2074.8,860.5 L2077.5,853.6 L2080.2,849.0 L2082.8,849.0 L2085.5,853.6 L2088.2,860.5 L2090.8,867.0 L2093.5,873.9 L2096.2,880.1 L2098.8,884.9 L2101.5,889.1 L2104.2,890.8 L2106.9,889.0 L2109.5,884.8 L2112.2,879.5 L2114.9,873.1 L2117.5,864.1 L2120.2,853.7 L2122.9,842.6 L2125.5,829.4 L2128.2,816.7 L2130.9,805.6 L2133.6,799.6 L2136.2,807.9 L2138.9,822.5 L2141.6,840.9 L2144.2,859.2 L2146.9,871.6 L2149.6,881.2 L2152.2,888.7 L2154.9,895.2 L2157.6,898.3 L2160.3,897.5 L2162.9,895.6 L2165.6,893.5 L2168.3,892.1 L2170.9,892.4 L2173.6,893.8 L2176.3,895.6 L2178.9,897.2 L2181.6,897.8 L2184.3,897.0 L2187.0,895.1 L2189.6,892.8 L2192.3,889.1 L2195.0,884.7 L2197.6,881.0 L2200.3,878.3 L2203.0,875.7 L2205.6,873.3 L2208.3,871.1 L2211.0,869.3 L2213.7,867.9 L2215.7,867.0" stroke="#0000FF" stroke-width="7.2"/>
<path d="M117.7,540.4 L120.4,541.1 L123.0,540.5 L125.7,540.7 L128.4,541.2 L131.1,540.7 L133.7,541.1 L136.4,540.8 L139.1,541.2 L141.7,539.7 L144.4,539.8 L147.1,539.7 L149.7,541.4 L152.4,541.9 L155.1,543.6 L157.8,544.0 L160.4,544.1 L163.1,545.3 L165.8,544.4 L168.4,543.9 L171.1,543.3 L173.8,544.3 L176.4,542.1 L179.1,538.7 L181.8,539.3 L184.5,541.1 L187.1,542.2 L189.8,544.7 L192.5,546.0 L195.1,543.1 L197.8,543.0 L200.5,543.2 L203.1,542.2 L205.8,543.3 L208.5,544.9 L211.2,545.9 L213.8,546.0 L216.5,544.9 L219.2,545.2 L221.8,545.7 L224.5,545.3 L227.2,546.0 L229.8,544.7 L232.5,543.5 L235.2,543.7 L237.9,542.0 L240.5,541.7 L243.2,542.7 L245.9,543.2 L248.5,544.1 L251.2,544.0 L253.9,542.1 L256.5,540.2 L259.2,538.6 L261.9,539.6 L264.6,540.0 L267.2,538.9 L269.9,539.3 L272.6,539.4 L275.2,539.0 L277.9,539.2 L280.6,541.6 L283.2,544.9 L285.9,548.5 L288.6,549.2 L291.3,548.8 L293.9,547.2 L296.6,546.1 L299.3,545.4 L301.9,544.1 L304.6,540.3 L307.3,539.9 L309.9,541.1 L312.6,542.9 L315.3,541.8 L318.0,539.9 L320.6,538.5 L323.3,540.3 L326.0,541.4 L328.6,542.9 L331.3,544.8 L334.0,544.7 L336.6,545.7 L339.3,546.3 L342.0,544.0 L344.7,541.2 L347.3,539.1 L350.0,542.9 L352.7,544.7 L355.3,543.5 L358.0,540.1 L360.7,539.7 L363.3,540.3 L366.0,540.4 L368.7,542.3 L371.4,542.6 L374.0,544.4 L376.7,544.7 L379.4,544.4 L382.0,543.1 L384.7,540.6 L387.4,539.9 L390.0,540.5 L392.7,542.0 L395.4,543.0 L398.1,543.1 L400.7,541.2 L403.4,540.9 L406.1,539.2 L408.7,540.6 L411.4,541.1 L414.1,540.4 L416.7,542.3 L419.4,544.0 L422.1,544.3 L424.8,544.2 L427.4,544.5 L430.1,545.2 L432.8,545.3 L435.4,545.9 L438.1,545.7 L440.8,546.3 L443.4,546.2 L446.1,545.7 L448.8,545.8 L451.5,546.4 L454.1,547.4 L456.8,547.2 L459.5,548.9 L462.1,548.1 L464.8,549.5 L467.5,549.8 L470.1,551.2 L472.8,551.7 L475.5,552.0 L478.2,551.7 L480.8,552.3 L483.5,552.8 L486.2,554.2 L488.8,553.5 L491.5,554.5 L494.2,555.0 L496.8,554.2 L499.5,554.7 L502.2,553.9 L504.9,555.2 L507.5,556.1 L510.2,555.3 L512.9,556.3 L515.5,556.7 L518.2,556.5 L520.9,556.0 L523.5,556.4 L526.2,555.9 L528.9,556.0 L531.6,557.6 L534.2,555.9 L536.9,555.7 L539.6,556.2 L542.2,556.2 L544.9,556.4 L547.6,555.4 L550.2,555.2 L552.9,555.1 L555.6,556.1 L558.3,556.2 L560.9,555.0 L563.6,555.0 L566.3,555.2 L568.9,554.5 L571.6,554.6 L574.3,555.2 L576.9,553.7 L579.6,554.4 L582.3,554.6 L585.0,553.0 L587.6,554.0 L590.3,552.6 L593.0,551.1 L595.6,550.6 L598.3,549.1 L601.0,548.7 L603.6,548.5 L606.3,548.4 L609.0,548.6 L611.7,548.9 L614.3,549.5 L617.0,549.0 L619.7,549.4 L622.3,549.1 L625.0,549.7 L627.7,549.4 L630.3,550.3 L633.0,549.7 L635.7,548.5 L638.4,549.2 L641.0,548.6 L643.7,548.9 L646.4,547.7 L649.0,547.5 L651.7,546.8 L654.4,545.4 L657.0,545.0 L659.7,544.5 L662.4,543.1 L665.1,545.1 L667.7,542.6 L670.4,540.9 L673.1,540.4 L675.7,541.0 L678.4,540.6 L681.1,540.0 L683.7,540.2 L686.4,541.5 L689.1,541.6 L691.8,542.3 L694.4,542.0 L697.1,542.7 L699.8,540.9 L702.4,542.4 L705.1,541.5 L707.8,541.4 L710.4,542.5 L713.1,540.8 L715.8,541.8 L718.5,541.6 L721.1,542.5 L723.8,540.9 L726.5,541.9 L729.1,541.9 L731.8,541.5 L734.5,541.5 L737.1,541.3 L739.8,540.4 L742.5,540.6 L745.2,539.3 L747.8,540.5 L750.5,540.2 L753.2,538.7 L755.8,540.3 L758.5,539.5 L761.2,538.8 L763.8,539.4 L766.5,540.3 L769.2,540.0 L771.9,539.6 L774.5,540.8 L777.2,540.5 L779.9,540.6 L782.5,540.7 L785.2,542.7 L787.9,544.1 L790.5,544.4 L793.2,546.3 L795.9,547.9 L798.6,550.5 L801.2,552.2 L803.9,556.1 L806.6,556.0 L809.2,555.8 L811.9,553.4 L814.6,546.3 L817.2,539.9 L819.9,537.4 L822.6,543.0 L825.3,547.0 L827.9,551.8 L830.6,557.0 L833.3,558.8 L835.9,561.3 L838.6,561.6 L841.3,559.4 L843.9,558.6 L846.6,556.8 L849.3,553.2 L852.0,555.4 L854.6,555.4 L857.3,556.1 L860.0,557.3 L862.6,557.3 L865.3,557.7 L868.0,559.1 L870.6,559.3 L873.3,559.8 L876.0,557.8 L878.7,558.1 L881.3,558.8 L884.0,556.2 L886.7,554.7 L889.3,551.7 L892.0,549.0 L894.7,548.8 L897.3,548.6 L900.0,547.8 L902.7,547.9 L905.4,548.3 L908.0,547.4 L910.7,547.2 L913.4,548.3 L916.0,548.1 L918.7,547.0 L921.4,547.8 L924.0,547.0 L926.7,546.3 L929.4,544.9 L932.1,544.6 L934.7,542.6 L937.4,541.7 L940.1,540.7 L942.7,541.5 L945.4,540.7 L948.1,540.5 L950.7,540.8 L953.4,541.8 L956.1,540.8 L958.8,539.2 L961.4,540.0 L964.1,540.0 L966.8,539.5 L969.4,539.2 L972.1,540.8 L974.8,540.2 L977.4,540.2 L980.1,539.9 L982.8,540.1 L985.5,539.9 L988.1,539.7 L990.8,539.5 L993.5,539.0 L996.1,539.1 L998.8,539.5 L1001.5,539.0 L1004.1,539.8 L1006.8,539.0 L1009.5,540.0 L1012.2,538.7 L1014.8,539.8 L1017.5,540.3 L1020.2,540.1 L1022.8,539.3 L1025.5,540.4 L1028.2,539.6 L1030.8,539.8 L1033.5,539.6 L1036.2,538.6 L1038.9,540.0 L1041.5,539.9 L1044.2,540.1 L1046.9,539.1 L1049.5,540.2 L1052.2,539.3 L1054.9,539.0 L1057.5,539.1 L1060.2,539.9 L1062.9,539.5 L1065.6,540.7 L1068.2,540.3 L1070.9,540.5 L1073.6,539.7 L1076.2,539.2 L1078.9,538.9 L1081.6,539.8 L1084.2,540.7 L1086.9,540.7 L1089.6,539.0 L1092.3,540.2 L1094.9,540.4 L1097.6,539.4 L1100.3,540.1 L1102.9,539.7 L1105.6,540.2 L1108.3,540.3 L1110.9,540.0 L1113.6,540.1 L1116.3,539.8 L1119.0,540.3 L1121.6,538.3 L1124.3,540.6 L1127.0,540.9 L1129.6,539.6 L1132.3,540.3 L1135.0,540.8 L1137.6,540.0 L1140.3,540.1 L1143.0,540.5 L1145.7,541.0 L1148.3,539.7 L1151.0,540.7 L1153.7,540.9 L1156.3,539.8 L1159.0,540.8 L1161.7,541.6 L1164.3,540.7 L1167.0,540.7 L1169.7,541.7 L1172.4,540.5 L1175.0,540.8 L1177.7,541.8 L1180.4,542.1 L1183.0,540.5 L1185.7,541.1 L1188.4,541.6 L1191.0,542.1 L1193.7,541.7 L1196.4,541.2 L1199.1,542.1 L1201.7,540.4 L1204.4,541.9 L1207.1,542.4 L1209.7,542.7 L1212.4,542.4 L1215.1,541.3 L1217.7,542.8 L1220.4,542.0 L1223.1,542.1 L1225.8,543.1 L1228.4,541.3 L1231.1,543.8 L1233.8,543.1 L1236.4,543.1 L1239.1,542.4 L1241.8,542.1 L1244.4,540.9 L1247.1,539.8 L1249.8,538.6 L1252.5,539.8 L1255.1,539.7 L1257.8,540.1 L1260.5,539.8 L1263.1,539.7 L1265.8,539.7 L1268.5,538.7 L1271.1,538.4 L1273.8,539.5 L1276.5,539.1 L1279.2,539.8 L1281.8,538.8 L1284.5,539.2 L1287.2,540.0 L1289.8,539.6 L1292.5,539.1 L1295.2,539.9 L1297.8,539.8 L1300.5,539.0 L1303.2,539.2 L1305.9,539.7 L1308.5,539.5 L1311.2,539.5 L1313.9,539.3 L1316.5,538.0 L1319.2,540.0 L1321.9,539.9 L1324.5,539.6 L1327.2,538.6 L1329.9,539.4 L1332.6,539.7 L1335.2,539.6 L1337.9,539.7 L1340.6,538.4 L1343.2,540.1 L1345.9,540.1 L1348.6,540.1 L1351.2,540.5 L1353.9,539.9 L1356.6,540.6 L1359.3,539.0 L1361.9,540.2 L1364.6,539.7 L1367.3,540.6 L1369.9,539.5 L1372.6,539.5 L1375.3,539.5 L1377.9,540.1 L1380.6,539.4 L1383.3,540.4 L1386.0,540.3 L1388.6,539.9 L1391.3,540.0 L1394.0,539.5 L1396.6,541.1 L1399.3,540.4 L1402.0,539.3 L1404.6,540.6 L1407.3,539.3 L1410.0,540.2 L1412.7,540.4 L1415.3,539.8 L1418.0,539.6 L1420.7,540.2 L1423.3,540.4 L1426.0,540.2 L1428.7,540.3 L1431.3,539.2 L1434.0,540.0 L1436.7,539.5 L1439.4,540.1 L1442.0,539.5 L1444.7,539.6 L1447.4,539.5 L1450.0,539.9 L1452.7,539.9 L1455.4,540.0 L1458.0,540.5 L1460.7,539.6 L1463.4,541.1 L1466.1,539.9 L1468.7,539.7 L1471.4,540.4 L1474.1,540.0 L1476.7,539.9 L1479.4,540.4 L1482.1,539.5 L1484.7,540.9 L1487.4,539.5 L1490.1,539.9 L1492.8,541.0 L1495.4,541.1 L1498.1,540.6 L1500.8,539.6 L1503.4,540.2 L1506.1,540.1 L1508.8,540.2 L1511.4,540.4 L1514.1,540.8 L1516.8,541.2 L1519.5,540.8 L1522.1,540.3 L1524.8,540.9 L1527.5,541.1 L1530.1,541.6 L1532.8,540.9 L1535.5,541.2 L1538.1,541.3 L1540.8,541.2 L1543.5,542.3 L1546.2,542.0 L1548.8,543.1 L1551.5,543.3 L1554.2,543.1 L1556.8,543.4 L1559.5,543.4 L1562.2,544.1 L1564.8,544.5 L1567.5,545.5 L1570.2,545.0 L1572.9,546.4 L1575.5,546.6 L1578.2,546.8 L1580.9,546.3 L1583.5,546.8 L1586.2,547.7 L1588.9,548.1 L1591.5,547.6 L1594.2,549.7 L1596.9,549.1 L1599.6,549.3 L1602.2,550.1 L1604.9,549.7 L1607.6,549.3 L1610.2,550.9 L1612.9,551.0 L1615.6,551.9 L1618.2,552.4 L1620.9,551.9 L1623.6,552.8 L1626.3,554.3 L1628.9,555.1 L1631.6,554.6 L1634.3,555.1 L1636.9,555.6 L1639.6,555.9 L1642.3,557.6 L1644.9,557.4 L1647.6,556.4 L1650.3,557.0 L1653.0,558.4 L1655.6,558.6 L1658.3,559.7 L1661.0,560.9 L1663.6,561.6 L1666.3,563.2 L1669.0,564.8 L1671.6,566.7 L1674.3,568.4 L1677.0,568.9 L1679.7,571.1 L1682.3,570.2 L1685.0,571.6 L1687.7,573.0 L1690.3,574.1 L1693.0,573.6 L1695.7,574.7 L1698.3,575.8 L1701.0,577.1 L1703.7,582.7 L1706.4,586.4 L1709.0,586.9 L1711.7,587.3 L1714.4,587.1 L1717.0,586.9 L1719.7,587.4 L1722.4,586.9 L1725.0,587.2 L1727.7,586.1 L1730.4,586.2 L1733.1,585.3 L1735.7,584.8 L1738.4,584.2 L1741.1,584.0 L1743.7,583.8 L1746.4,584.6 L1749.1,585.8 L1751.7,587.2 L1754.4,588.8 L1757.1,590.9 L1759.8,593.2 L1762.4,595.3 L1765.1,597.0 L1767.8,598.2 L1770.4,599.4 L1773.1,600.5 L1775.8,601.4 L1778.4,601.9 L1781.1,602.0 L1783.8,601.8 L1786.5,601.3 L1789.1,600.7 L1791.8,600.1 L1794.5,599.7 L1797.1,599.3 L1799.8,599.0 L1802.5,598.7 L1805.1,598.4 L1807.8,598.1 L1810.5,598.0 L1813.2,597.8 L1815.8,597.8 L1818.5,599.1 L1821.2,601.6 L1823.8,604.6 L1826.5,609.3 L1829.2,614.2 L1831.8,617.7 L1834.5,620.7 L1837.2,622.5 L1839.9,621.4 L1842.5,617.7 L1845.2,613.8 L1847.9,612.1 L1850.5,612.6 L1853.2,613.8 L1855.9,615.4 L1858.5,617.6 L1861.2,621.2 L1863.9,624.6 L1866.6,626.5 L1869.2,627.6 L1871.9,628.4 L1874.6,629.3 L1877.2,630.5 L1879.9,632.8 L1882.6,636.8 L1885.2,641.6 L1887.9,646.1 L1890.6,649.3 L1893.3,650.2 L1895.9,647.3 L1898.6,643.7 L1901.3,641.9 L1903.9,640.6 L1906.6,640.5 L1909.3,643.5 L1911.9,647.4 L1914.6,649.8 L1917.3,652.0 L1920.0,653.5 L1922.6,653.8 L1925.3,653.3 L1928.0,652.3 L1930.6,651.1 L1933.3,649.6 L1936.0,648.1 L1938.6,646.6 L1941.3,644.7 L1944.0,642.6 L1946.7,640.3 L1949.3,637.9 L1952.0,635.7 L1954.7,633.9 L1957.3,631.6 L1960.0,627.9 L1962.7,618.4 L1965.3,599.4 L1968.0,568.6 L1970.7,540.1 L1973.4,553.4 L1976.0,586.8 L1978.7,614.6 L1981.4,626.9 L1984.0,628.3 L1986.7,628.8 L1989.4,628.5 L1992.0,628.0 L1994.7,627.4 L1997.4,627.1 L2000.1,628.4 L2002.7,631.8 L2005.4,634.6 L2008.1,636.2 L2010.7,637.6 L2013.4,638.7 L2016.1,639.4 L2018.7,639.5 L2021.4,638.8 L2024.1,637.8 L2026.8,637.1 L2029.4,637.5 L2032.1,640.0 L2034.8,643.7 L2037.4,649.8 L2040.1,659.9 L2042.8,670.7 L2045.4,681.4 L2048.1,692.6 L2050.8,702.5 L2053.5,712.2 L2056.1,716.2 L2058.8,717.0 L2061.5,713.4 L2064.1,705.6 L2066.8,695.3 L2069.5,683.8 L2072.1,674.6 L2074.8,666.7 L2077.5,662.1 L2080.2,659.2 L2082.8,658.4 L2085.5,661.5 L2088.2,666.6 L2090.8,672.4 L2093.5,679.3 L2096.2,682.6 L2098.8,684.1 L2101.5,685.2 L2104.2,685.7 L2106.9,685.3 L2109.5,682.8 L2112.2,679.2 L2114.9,674.6 L2117.5,668.0 L2120.2,660.0 L2122.9,651.2 L2125.5,639.9 L2128.2,628.8 L2130.9,618.9 L2133.6,613.4 L2136.2,620.9 L2138.9,634.9 L2141.6,656.1 L2144.2,676.7 L2146.9,688.0 L2149.6,696.4 L2152.2,703.5 L2154.9,709.5 L2157.6,710.8 L2160.3,710.7 L2162.9,710.6 L2165.6,710.4 L2168.3,710.3 L2170.9,710.3 L2173.6,711.2 L2176.3,712.6 L2178.9,714.0 L2181.6,714.5 L2184.3,713.9 L2187.0,712.3 L2189.6,710.3 L2192.3,706.9 L2195.0,702.5 L2197.6,698.5 L2200.3,695.3 L2203.0,692.1 L2205.6,689.1 L2208.3,686.3 L2211.0,683.7 L2213.7,681.2 L2215.7,679.5" stroke="#FF00FF" stroke-width="7.2"/>
<path d="M117.7,334.2 L120.4,333.0 L123.0,332.7 L125.7,332.3 L128.4,331.0 L131.1,332.2 L133.7,331.2 L136.4,332.2 L139.1,331.7 L141.7,332.8 L144.4,332.4 L147.1,333.3 L149.7,333.5 L152.4,335.5 L155.1,335.8 L157.8,337.0 L160.4,337.5 L163.1,337.4 L165.8,336.4 L168.4,334.6 L171.1,334.2 L173.8,334.6 L176.4,334.1 L179.1,334.1 L181.8,333.2 L184.5,333.5 L187.1,335.5 L189.8,336.2 L192.5,336.3 L195.1,336.5 L197.8,335.4 L200.5,335.5 L203.1,336.1 L205.8,335.4 L208.5,336.8 L211.2,338.0 L213.8,338.0 L216.5,336.6 L219.2,336.8 L221.8,337.1 L224.5,338.8 L227.2,340.0 L229.8,340.1 L232.5,338.7 L235.2,339.3 L237.9,337.2 L240.5,337.9 L243.2,338.2 L245.9,337.9 L248.5,337.5 L251.2,336.9 L253.9,335.6 L256.5,333.9 L259.2,332.4 L261.9,331.6 L264.6,331.8 L267.2,333.9 L269.9,332.7 L272.6,332.2 L275.2,333.7 L277.9,333.2 L280.6,335.0 L283.2,340.8 L285.9,343.2 L288.6,343.6 L291.3,344.0 L293.9,342.0 L296.6,340.2 L299.3,340.4 L301.9,335.8 L304.6,333.9 L307.3,334.8 L309.9,336.9 L312.6,337.6 L315.3,335.6 L318.0,333.0 L320.6,332.4 L323.3,334.1 L326.0,336.2 L328.6,337.4 L331.3,339.0 L334.0,340.3 L336.6,340.9 L339.3,340.3 L342.0,338.0 L344.7,334.2 L347.3,335.2 L350.0,337.9 L352.7,338.6 L355.3,337.0 L358.0,335.5 L360.7,333.7 L363.3,333.4 L366.0,335.0 L368.7,335.5 L371.4,336.7 L374.0,339.6 L376.7,339.2 L379.4,338.8 L382.0,335.4 L384.7,334.2 L387.4,333.5 L390.0,334.9 L392.7,336.9 L395.4,337.8 L398.1,336.7 L400.7,336.0 L403.4,333.4 L406.1,332.9 L408.7,332.7 L411.4,333.1 L414.1,332.6 L416.7,333.0 L419.4,333.9 L422.1,334.1 L424.8,334.7 L427.4,332.7 L430.1,334.3 L432.8,334.2 L435.4,335.4 L438.1,334.4 L440.8,334.5 L443.4,334.9 L446.1,335.2 L448.8,333.8 L451.5,334.3 L454.1,335.6 L456.8,335.6 L459.5,335.7 L462.1,336.9 L464.8,335.4 L467.5,336.7 L470.1,336.6 L472.8,337.4 L475.5,337.0 L478.2,337.8 L480.8,339.3 L483.5,338.2 L486.2,338.0 L488.8,338.9 L491.5,338.4 L494.2,339.4 L496.8,337.6 L499.5,337.5 L502.2,337.0 L504.9,337.7 L507.5,337.1 L510.2,339.2 L512.9,338.4 L515.5,338.6 L518.2,338.2 L520.9,337.8 L523.5,337.3 L526.2,336.3 L528.9,337.8 L531.6,336.4 L534.2,337.6 L536.9,337.0 L539.6,336.2 L542.2,337.3 L544.9,337.8 L547.6,337.9 L550.2,337.9 L552.9,338.2 L555.6,337.8 L558.3,337.6 L560.9,338.0 L563.6,337.9 L566.3,337.4 L568.9,337.9 L571.6,337.2 L574.3,337.6 L576.9,337.3 L579.6,337.9 L582.3,336.0 L585.0,338.1 L587.6,336.7 L590.3,337.7 L593.0,336.5 L595.6,336.7 L598.3,337.1 L601.0,336.5 L603.6,336.4 L606.3,336.6 L609.0,337.6 L611.7,335.6 L614.3,336.6 L617.0,337.4 L619.7,336.4 L622.3,337.5 L625.0,335.1 L627.7,335.6 L630.3,336.1 L633.0,335.9 L635.7,336.0 L638.4,336.7 L641.0,335.7 L643.7,336.5 L646.4,336.5 L649.0,336.2 L651.7,337.6 L654.4,336.1 L657.0,337.6 L659.7,335.9 L662.4,336.5 L665.1,336.4 L667.7,335.6 L670.4,335.5 L673.1,334.5 L675.7,333.6 L678.4,333.4 L681.1,334.5 L683.7,334.7 L686.4,335.0 L689.1,333.4 L691.8,335.5 L694.4,336.3 L697.1,335.2 L699.8,334.1 L702.4,335.6 L705.1,336.1 L707.8,335.3 L710.4,336.1 L713.1,336.6 L715.8,335.9 L718.5,336.2 L721.1,337.5 L723.8,336.6 L726.5,336.1 L729.1,337.1 L731.8,337.3 L734.5,337.0 L737.1,337.0 L739.8,336.7 L742.5,338.9 L745.2,336.8 L747.8,337.6 L750.5,338.0 L753.2,338.5 L755.8,337.7 L758.5,338.3 L761.2,338.0 L763.8,338.8 L766.5,337.7 L769.2,339.9 L771.9,339.7 L774.5,340.3 L777.2,340.2 L779.9,339.6 L782.5,341.7 L785.2,344.1 L787.9,347.1 L790.5,347.4 L793.2,349.3 L795.9,349.8 L798.6,350.1 L801.2,350.9 L803.9,351.5 L806.6,350.9 L809.2,348.5 L811.9,346.9 L814.6,338.4 L817.2,333.6 L819.9,333.3 L822.6,335.5 L825.3,341.7 L827.9,347.0 L830.6,351.3 L833.3,351.6 L835.9,351.0 L838.6,352.8 L841.3,350.5 L843.9,349.6 L846.6,348.8 L849.3,348.7 L852.0,347.2 L854.6,348.5 L857.3,349.4 L860.0,349.6 L862.6,349.7 L865.3,349.8 L868.0,349.5 L870.6,348.8 L873.3,349.6 L876.0,350.6 L878.7,349.6 L881.3,348.0 L884.0,347.2 L886.7,346.6 L889.3,343.2 L892.0,340.9 L894.7,342.1 L897.3,340.2 L900.0,339.6 L902.7,340.7 L905.4,339.3 L908.0,339.7 L910.7,339.9 L913.4,340.5 L916.0,339.1 L918.7,340.0 L921.4,338.5 L924.0,339.2 L926.7,339.1 L929.4,338.8 L932.1,339.3 L934.7,337.2 L937.4,336.6 L940.1,335.9 L942.7,335.6 L945.4,335.8 L948.1,335.4 L950.7,335.7 L953.4,334.5 L956.1,335.0 L958.8,334.7 L961.4,334.2 L964.1,334.2 L966.8,333.9 L969.4,333.4 L972.1,333.3 L974.8,332.3 L977.4,332.4 L980.1,332.8 L982.8,333.1 L985.5,333.0 L988.1,332.5 L990.8,332.1 L993.5,332.7 L996.1,332.5 L998.8,331.9 L1001.5,332.9 L1004.1,333.2 L1006.8,332.5 L1009.5,331.6 L1012.2,332.5 L1014.8,332.6 L1017.5,331.8 L1020.2,332.9 L1022.8,332.7 L1025.5,333.2 L1028.2,332.4 L1030.8,332.7 L1033.5,332.8 L1036.2,333.4 L1038.9,332.2 L1041.5,332.9 L1044.2,334.0 L1046.9,332.8 L1049.5,332.3 L1052.2,333.8 L1054.9,333.5 L1057.5,332.0 L1060.2,333.2 L1062.9,332.3 L1065.6,333.1 L1068.2,333.8 L1070.9,333.7 L1073.6,332.6 L1076.2,332.8 L1078.9,334.3 L1081.6,333.7 L1084.2,333.3 L1086.9,333.7 L1089.6,333.0 L1092.3,332.6 L1094.9,332.8 L1097.6,334.0 L1100.3,333.2 L1102.9,334.2 L1105.6,334.4 L1108.3,334.1 L1110.9,333.5 L1113.6,333.7 L1116.3,333.6 L1119.0,334.2 L1121.6,334.9 L1124.3,334.3 L1127.0,335.4 L1129.6,334.5 L1132.3,334.0 L1135.0,333.4 L1137.6,333.8 L1140.3,333.5 L1143.0,334.7 L1145.7,334.4 L1148.3,335.6 L1151.0,334.9 L1153.7,335.0 L1156.3,334.0 L1159.0,334.1 L1161.7,334.9 L1164.3,334.6 L1167.0,334.1 L1169.7,334.2 L1172.4,334.7 L1175.0,334.9 L1177.7,334.7 L1180.4,334.2 L1183.0,334.2 L1185.7,334.7 L1188.4,334.3 L1191.0,333.3 L1193.7,333.5 L1196.4,334.3 L1199.1,334.8 L1201.7,334.3 L1204.4,333.2 L1207.1,332.9 L1209.7,334.7 L1212.4,333.5 L1215.1,333.0 L1217.7,333.2 L1220.4,333.3 L1223.1,332.9 L1225.8,332.9 L1228.4,333.7 L1231.1,332.4 L1233.8,332.4 L1236.4,332.8 L1239.1,332.6 L1241.8,332.5 L1244.4,332.7 L1247.1,332.1 L1249.8,332.6 L1252.5,332.2 L1255.1,333.4 L1257.8,332.2 L1260.5,332.5 L1263.1,333.1 L1265.8,332.2 L1268.5,332.7 L1271.1,332.0 L1273.8,332.1 L1276.5,332.1 L1279.2,332.2 L1281.8,332.4 L1284.5,331.0 L1287.2,332.6 L1289.8,332.5 L1292.5,332.0 L1295.2,331.9 L1297.8,332.5 L1300.5,332.3 L1303.2,333.8 L1305.9,333.2 L1308.5,332.5 L1311.2,332.2 L1313.9,332.7 L1316.5,331.6 L1319.2,331.7 L1321.9,332.8 L1324.5,331.3 L1327.2,332.3 L1329.9,332.0 L1332.6,332.5 L1335.2,332.8 L1337.9,332.4 L1340.6,333.2 L1343.2,332.7 L1345.9,333.5 L1348.6,333.0 L1351.2,334.0 L1353.9,334.1 L1356.6,333.2 L1359.3,331.6 L1361.9,332.8 L1364.6,333.2 L1367.3,332.5 L1369.9,333.0 L1372.6,334.3 L1375.3,333.3 L1377.9,333.7 L1380.6,334.7 L1383.3,333.2 L1386.0,333.4 L1388.6,334.2 L1391.3,333.5 L1394.0,334.5 L1396.6,334.9 L1399.3,334.9 L1402.0,334.5 L1404.6,334.4 L1407.3,335.0 L1410.0,334.9 L1412.7,335.2 L1415.3,336.1 L1418.0,334.2 L1420.7,336.0 L1423.3,335.0 L1426.0,336.0 L1428.7,335.5 L1431.3,335.5 L1434.0,335.6 L1436.7,336.6 L1439.4,336.2 L1442.0,336.7 L1444.7,335.3 L1447.4,335.8 L1450.0,335.7 L1452.7,336.1 L1455.4,337.0 L1458.0,337.1 L1460.7,336.3 L1463.4,335.5 L1466.1,336.5 L1468.7,336.1 L1471.4,336.5 L1474.1,337.4 L1476.7,337.6 L1479.4,338.6 L1482.1,336.9 L1484.7,336.8 L1487.4,336.7 L1490.1,338.9 L1492.8,337.4 L1495.4,338.5 L1498.1,339.5 L1500.8,338.4 L1503.4,339.8 L1506.1,339.3 L1508.8,341.0 L1511.4,340.0 L1514.1,341.0 L1516.8,341.4 L1519.5,341.9 L1522.1,343.0 L1524.8,343.3 L1527.5,343.7 L1530.1,344.0 L1532.8,342.5 L1535.5,343.7 L1538.1,345.0 L1540.8,345.2 L1543.5,345.2 L1546.2,344.7 L1548.8,345.8 L1551.5,345.4 L1554.2,345.4 L1556.8,346.8 L1559.5,346.6 L1562.2,347.0 L1564.8,347.7 L1567.5,348.1 L1570.2,347.7 L1572.9,347.6 L1575.5,348.3 L1578.2,348.5 L1580.9,349.2 L1583.5,349.8 L1586.2,349.7 L1588.9,350.0 L1591.5,349.7 L1594.2,351.1 L1596.9,351.3 L1599.6,352.5 L1602.2,353.4 L1604.9,353.7 L1607.6,353.9 L1610.2,355.1 L1612.9,356.4 L1615.6,355.0 L1618.2,356.5 L1620.9,357.0 L1623.6,357.4 L1626.3,357.6 L1628.9,357.5 L1631.6,358.1 L1634.3,359.4 L1636.9,358.5 L1639.6,359.1 L1642.3,359.2 L1644.9,360.6 L1647.6,361.2 L1650.3,360.3 L1653.0,361.0 L1655.6,360.3 L1658.3,363.4 L1661.0,364.7 L1663.6,365.8 L1666.3,366.3 L1669.0,368.8 L1671.6,371.2 L1674.3,370.8 L1677.0,372.2 L1679.7,374.2 L1682.3,374.4 L1685.0,376.1 L1687.7,376.1 L1690.3,377.0 L1693.0,376.8 L1695.7,377.5 L1698.3,378.3 L1701.0,380.2 L1703.7,385.2 L1706.4,388.1 L1709.0,387.9 L1711.7,388.5 L1714.4,388.6 L1717.0,388.3 L1719.7,388.4 L1722.4,388.5 L1725.0,388.2 L1727.7,387.9 L1730.4,387.9 L1733.1,387.6 L1735.7,387.2 L1738.4,387.2 L1741.1,387.2 L1743.7,387.1 L1746.4,387.7 L1749.1,389.1 L1751.7,390.5 L1754.4,392.6 L1757.1,395.0 L1759.8,397.5 L1762.4,399.4 L1765.1,400.6 L1767.8,401.8 L1770.4,402.9 L1773.1,403.8 L1775.8,404.5 L1778.4,405.1 L1781.1,405.4 L1783.8,405.6 L1786.5,405.8 L1789.1,406.0 L1791.8,406.2 L1794.5,406.3 L1797.1,406.3 L1799.8,406.2 L1802.5,406.0 L1805.1,405.6 L1807.8,405.2 L1810.5,404.7 L1813.2,404.4 L1815.8,404.1 L1818.5,404.1 L1821.2,405.8 L1823.8,408.8 L1826.5,411.7 L1829.2,413.8 L1831.8,415.7 L1834.5,417.4 L1837.2,418.3 L1839.9,417.4 L1842.5,414.8 L1845.2,412.5 L1847.9,412.1 L1850.5,412.6 L1853.2,413.4 L1855.9,414.3 L1858.5,415.3 L1861.2,416.4 L1863.9,417.8 L1866.6,419.2 L1869.2,420.7 L1871.9,422.3 L1874.6,424.3 L1877.2,426.5 L1879.9,428.9 L1882.6,431.2 L1885.2,433.3 L1887.9,434.9 L1890.6,436.0 L1893.3,436.3 L1895.9,436.0 L1898.6,435.5 L1901.3,435.0 L1903.9,434.6 L1906.6,434.7 L1909.3,435.5 L1911.9,436.9 L1914.6,438.4 L1917.3,439.7 L1920.0,440.3 L1922.6,440.3 L1925.3,440.1 L1928.0,440.0 L1930.6,439.7 L1933.3,439.4 L1936.0,439.0 L1938.6,438.7 L1941.3,438.2 L1944.0,437.5 L1946.7,436.6 L1949.3,435.5 L1952.0,434.2 L1954.7,432.7 L1957.3,430.3 L1960.0,426.4 L1962.7,415.4 L1965.3,392.6 L1968.0,358.4 L1970.7,330.9 L1973.4,352.5 L1976.0,388.5 L1978.7,418.1 L1981.4,433.0 L1984.0,435.7 L1986.7,436.9 L1989.4,437.0 L1992.0,436.6 L1994.7,436.3 L1997.4,436.7 L2000.1,438.0 L2002.7,439.7 L2005.4,440.8 L2008.1,441.6 L2010.7,442.3 L2013.4,442.9 L2016.1,443.2 L2018.7,443.2 L2021.4,442.0 L2024.1,440.2 L2026.8,438.3 L2029.4,437.1 L2032.1,437.3 L2034.8,438.7 L2037.4,440.7 L2040.1,443.1 L2042.8,447.1 L2045.4,453.4 L2048.1,459.5 L2050.8,463.1 L2053.5,462.8 L2056.1,460.9 L2058.8,457.8 L2061.5,453.6 L2064.1,445.0 L2066.8,434.5 L2069.5,424.6 L2072.1,413.9 L2074.8,404.7 L2077.5,397.2 L2080.2,390.9 L2082.8,388.9 L2085.5,392.9 L2088.2,400.0 L2090.8,407.1 L2093.5,414.9 L2096.2,422.4 L2098.8,429.1 L2101.5,435.2 L2104.2,437.8 L2106.9,436.4 L2109.5,433.1 L2112.2,429.2 L2114.9,424.8 L2117.5,419.1 L2120.2,412.7 L2122.9,406.2 L2125.5,400.3 L2128.2,393.7 L2130.9,387.6 L2133.6,385.3 L2136.2,390.1 L2138.9,400.1 L2141.6,423.7 L2144.2,452.2 L2146.9,472.1 L2149.6,487.7 L2152.2,497.7 L2154.9,505.5 L2157.6,510.5 L2160.3,513.2 L2162.9,515.1 L2165.6,516.4 L2168.3,517.6 L2170.9,518.5 L2173.6,519.0 L2176.3,519.5 L2178.9,519.8 L2181.6,519.7 L2184.3,518.8 L2187.0,517.5 L2189.6,516.2 L2192.3,514.6 L2195.0,512.9 L2197.6,511.2 L2200.3,509.6 L2203.0,507.9 L2205.6,506.2 L2208.3,504.6 L2211.0,502.9 L2213.7,501.1 L2215.7,499.8" stroke="#008000" stroke-width="7.2"/>
<path d="M117.7,121.4 L120.4,121.8 L123.0,121.5 L125.7,121.3 L128.4,121.8 L131.1,120.7 L133.7,121.2 L136.4,121.2 L139.1,121.8 L141.7,121.9 L144.4,122.6 L147.1,123.7 L149.7,124.9 L152.4,125.7 L155.1,125.9 L157.8,127.2 L160.4,127.0 L163.1,127.8 L165.8,126.8 L168.4,125.9 L171.1,125.2 L173.8,124.0 L176.4,124.3 L179.1,123.4 L181.8,124.3 L184.5,123.0 L187.1,123.6 L189.8,125.3 L192.5,125.5 L195.1,125.6 L197.8,124.0 L200.5,124.6 L203.1,125.5 L205.8,126.3 L208.5,128.3 L211.2,128.4 L213.8,128.8 L216.5,128.5 L219.2,128.2 L221.8,129.7 L224.5,128.7 L227.2,127.5 L229.8,128.5 L232.5,127.1 L235.2,126.9 L237.9,126.7 L240.5,123.2 L243.2,122.0 L245.9,122.9 L248.5,127.1 L251.2,128.1 L253.9,125.6 L256.5,124.4 L259.2,120.9 L261.9,121.4 L264.6,122.4 L267.2,121.5 L269.9,122.0 L272.6,122.0 L275.2,122.5 L277.9,123.8 L280.6,126.1 L283.2,130.4 L285.9,132.3 L288.6,132.8 L291.3,130.3 L293.9,129.1 L296.6,128.5 L299.3,126.1 L301.9,124.8 L304.6,121.6 L307.3,120.4 L309.9,124.2 L312.6,124.7 L315.3,123.3 L318.0,121.0 L320.6,121.7 L323.3,123.7 L326.0,126.0 L328.6,128.7 L331.3,131.9 L334.0,133.9 L336.6,134.5 L339.3,134.5 L342.0,130.0 L344.7,125.9 L347.3,123.5 L350.0,125.5 L352.7,129.0 L355.3,127.5 L358.0,124.0 L360.7,121.5 L363.3,123.1 L366.0,122.0 L368.7,123.7 L371.4,125.5 L374.0,125.7 L376.7,126.9 L379.4,126.9 L382.0,124.2 L384.7,121.4 L387.4,121.3 L390.0,122.7 L392.7,125.1 L395.4,125.0 L398.1,126.3 L400.7,123.0 L403.4,122.2 L406.1,122.1 L408.7,122.2 L411.4,122.4 L414.1,124.9 L416.7,126.0 L419.4,126.7 L422.1,126.9 L424.8,126.8 L427.4,127.0 L430.1,128.5 L432.8,127.4 L435.4,127.3 L438.1,126.8 L440.8,127.2 L443.4,126.9 L446.1,126.6 L448.8,127.1 L451.5,126.8 L454.1,127.3 L456.8,127.6 L459.5,127.7 L462.1,129.0 L464.8,129.6 L467.5,128.2 L470.1,130.3 L472.8,130.8 L475.5,131.2 L478.2,132.4 L480.8,132.0 L483.5,132.0 L486.2,132.1 L488.8,133.3 L491.5,132.2 L494.2,133.3 L496.8,133.4 L499.5,133.7 L502.2,134.0 L504.9,133.6 L507.5,133.7 L510.2,134.5 L512.9,134.0 L515.5,135.3 L518.2,134.4 L520.9,133.1 L523.5,133.7 L526.2,132.8 L528.9,132.7 L531.6,133.2 L534.2,132.6 L536.9,131.6 L539.6,133.2 L542.2,133.7 L544.9,135.5 L547.6,135.3 L550.2,133.9 L552.9,131.8 L555.6,132.2 L558.3,131.1 L560.9,130.9 L563.6,133.7 L566.3,133.8 L568.9,134.5 L571.6,133.2 L574.3,133.8 L576.9,132.6 L579.6,131.5 L582.3,131.7 L585.0,131.5 L587.6,130.7 L590.3,132.1 L593.0,131.2 L595.6,130.2 L598.3,129.6 L601.0,131.5 L603.6,131.5 L606.3,131.4 L609.0,130.4 L611.7,130.3 L614.3,131.0 L617.0,129.7 L619.7,129.0 L622.3,128.6 L625.0,128.5 L627.7,127.5 L630.3,128.3 L633.0,128.9 L635.7,128.4 L638.4,129.2 L641.0,127.7 L643.7,128.2 L646.4,127.2 L649.0,127.9 L651.7,126.7 L654.4,125.7 L657.0,125.4 L659.7,124.1 L662.4,124.7 L665.1,123.6 L667.7,123.1 L670.4,123.2 L673.1,123.1 L675.7,122.4 L678.4,121.8 L681.1,123.0 L683.7,122.5 L686.4,122.2 L689.1,122.6 L691.8,121.9 L694.4,123.0 L697.1,122.0 L699.8,122.0 L702.4,122.3 L705.1,122.0 L707.8,122.2 L710.4,122.4 L713.1,122.0 L715.8,122.8 L718.5,122.6 L721.1,123.8 L723.8,122.5 L726.5,122.3 L729.1,122.3 L731.8,123.1 L734.5,123.0 L737.1,122.1 L739.8,122.7 L742.5,120.7 L745.2,120.6 L747.8,120.4 L750.5,120.3 L753.2,119.8 L755.8,121.2 L758.5,121.2 L761.2,120.7 L763.8,120.9 L766.5,121.1 L769.2,121.8 L771.9,123.2 L774.5,124.4 L777.2,125.5 L779.9,126.4 L782.5,127.9 L785.2,130.6 L787.9,134.9 L790.5,137.1 L793.2,140.7 L795.9,144.4 L798.6,146.9 L801.2,149.0 L803.9,149.6 L806.6,149.8 L809.2,149.4 L811.9,147.7 L814.6,134.9 L817.2,129.1 L819.9,128.4 L822.6,132.8 L825.3,136.1 L827.9,142.9 L830.6,149.8 L833.3,152.7 L835.9,153.7 L838.6,154.2 L841.3,157.3 L843.9,154.4 L846.6,152.4 L849.3,151.7 L852.0,149.7 L854.6,150.1 L857.3,149.6 L860.0,151.2 L862.6,150.4 L865.3,151.1 L868.0,151.7 L870.6,151.1 L873.3,152.5 L876.0,149.8 L878.7,146.9 L881.3,146.1 L884.0,144.0 L886.7,141.9 L889.3,138.4 L892.0,135.9 L894.7,133.8 L897.3,132.3 L900.0,130.3 L902.7,130.2 L905.4,129.1 L908.0,128.3 L910.7,127.0 L913.4,126.1 L916.0,127.1 L918.7,127.7 L921.4,127.2 L924.0,125.9 L926.7,126.5 L929.4,125.4 L932.1,124.8 L934.7,122.8 L937.4,122.1 L940.1,122.0 L942.7,122.7 L945.4,121.7 L948.1,121.9 L950.7,122.6 L953.4,121.4 L956.1,121.4 L958.8,121.3 L961.4,122.3 L964.1,121.3 L966.8,120.7 L969.4,121.2 L972.1,121.7 L974.8,121.6 L977.4,121.9 L980.1,122.2 L982.8,121.7 L985.5,121.2 L988.1,120.4 L990.8,121.7 L993.5,122.0 L996.1,121.8 L998.8,121.9 L1001.5,121.1 L1004.1,121.9 L1006.8,120.5 L1009.5,120.7 L1012.2,120.5 L1014.8,122.1 L1017.5,122.0 L1020.2,122.0 L1022.8,122.6 L1025.5,120.9 L1028.2,121.8 L1030.8,121.4 L1033.5,121.2 L1036.2,122.1 L1038.9,121.4 L1041.5,121.0 L1044.2,122.1 L1046.9,121.4 L1049.5,121.6 L1052.2,122.2 L1054.9,121.5 L1057.5,121.5 L1060.2,122.0 L1062.9,122.8 L1065.6,120.8 L1068.2,122.8 L1070.9,122.4 L1073.6,122.1 L1076.2,122.2 L1078.9,121.2 L1081.6,122.1 L1084.2,122.6 L1086.9,122.0 L1089.6,121.0 L1092.3,121.8 L1094.9,121.2 L1097.6,121.3 L1100.3,121.4 L1102.9,122.6 L1105.6,123.0 L1108.3,122.0 L1110.9,122.8 L1113.6,121.8 L1116.3,121.9 L1119.0,123.0 L1121.6,123.6 L1124.3,123.0 L1127.0,120.8 L1129.6,122.1 L1132.3,122.5 L1135.0,122.5 L1137.6,121.8 L1140.3,124.1 L1143.0,121.3 L1145.7,122.5 L1148.3,121.9 L1151.0,122.3 L1153.7,122.6 L1156.3,122.2 L1159.0,122.7 L1161.7,121.7 L1164.3,122.1 L1167.0,122.9 L1169.7,122.0 L1172.4,123.1 L1175.0,122.5 L1177.7,122.3 L1180.4,123.1 L1183.0,122.8 L1185.7,124.4 L1188.4,123.5 L1191.0,124.6 L1193.7,123.2 L1196.4,124.5 L1199.1,124.0 L1201.7,124.6 L1204.4,123.9 L1207.1,125.0 L1209.7,125.7 L1212.4,124.0 L1215.1,124.0 L1217.7,125.8 L1220.4,123.8 L1223.1,124.1 L1225.8,123.5 L1228.4,122.5 L1231.1,122.7 L1233.8,122.4 L1236.4,120.7 L1239.1,122.4 L1241.8,121.6 L1244.4,119.9 L1247.1,121.5 L1249.8,122.8 L1252.5,120.9 L1255.1,121.6 L1257.8,122.5 L1260.5,120.1 L1263.1,122.3 L1265.8,122.7 L1268.5,122.5 L1271.1,120.8 L1273.8,122.0 L1276.5,121.4 L1279.2,122.5 L1281.8,122.3 L1284.5,121.3 L1287.2,121.5 L1289.8,121.0 L1292.5,121.3 L1295.2,121.4 L1297.8,121.6 L1300.5,121.4 L1303.2,121.1 L1305.9,121.6 L1308.5,121.3 L1311.2,121.6 L1313.9,121.1 L1316.5,122.5 L1319.2,122.4 L1321.9,122.4 L1324.5,121.0 L1327.2,121.8 L1329.9,121.5 L1332.6,121.7 L1335.2,122.0 L1337.9,122.2 L1340.6,121.2 L1343.2,122.5 L1345.9,122.5 L1348.6,122.5 L1351.2,121.4 L1353.9,121.9 L1356.6,121.8 L1359.3,121.3 L1361.9,121.3 L1364.6,121.8 L1367.3,121.2 L1369.9,121.0 L1372.6,121.7 L1375.3,121.8 L1377.9,122.4 L1380.6,122.8 L1383.3,121.1 L1386.0,122.0 L1388.6,122.3 L1391.3,121.3 L1394.0,121.7 L1396.6,122.0 L1399.3,121.8 L1402.0,122.4 L1404.6,123.0 L1407.3,123.2 L1410.0,121.9 L1412.7,121.8 L1415.3,122.6 L1418.0,121.9 L1420.7,122.0 L1423.3,122.5 L1426.0,121.5 L1428.7,123.0 L1431.3,121.9 L1434.0,122.3 L1436.7,121.8 L1439.4,122.3 L1442.0,121.7 L1444.7,121.1 L1447.4,121.8 L1450.0,122.5 L1452.7,121.3 L1455.4,122.6 L1458.0,123.3 L1460.7,122.1 L1463.4,122.8 L1466.1,122.2 L1468.7,123.0 L1471.4,122.3 L1474.1,121.1 L1476.7,122.2 L1479.4,123.3 L1482.1,122.5 L1484.7,122.2 L1487.4,122.8 L1490.1,121.8 L1492.8,123.8 L1495.4,122.3 L1498.1,123.3 L1500.8,123.4 L1503.4,123.3 L1506.1,123.1 L1508.8,124.2 L1511.4,124.5 L1514.1,124.8 L1516.8,124.0 L1519.5,125.4 L1522.1,125.6 L1524.8,125.9 L1527.5,126.2 L1530.1,126.1 L1532.8,125.9 L1535.5,127.2 L1538.1,126.6 L1540.8,127.0 L1543.5,127.8 L1546.2,129.1 L1548.8,128.7 L1551.5,129.2 L1554.2,128.6 L1556.8,128.9 L1559.5,129.6 L1562.2,129.8 L1564.8,130.1 L1567.5,130.5 L1570.2,130.3 L1572.9,130.8 L1575.5,131.2 L1578.2,132.5 L1580.9,131.8 L1583.5,132.3 L1586.2,133.2 L1588.9,133.6 L1591.5,134.0 L1594.2,132.9 L1596.9,134.3 L1599.6,134.7 L1602.2,135.3 L1604.9,136.1 L1607.6,137.0 L1610.2,137.3 L1612.9,137.4 L1615.6,138.2 L1618.2,138.1 L1620.9,139.3 L1623.6,141.5 L1626.3,141.6 L1628.9,141.6 L1631.6,143.4 L1634.3,145.2 L1636.9,147.0 L1639.6,147.6 L1642.3,149.1 L1644.9,150.5 L1647.6,151.6 L1650.3,150.0 L1653.0,149.3 L1655.6,149.8 L1658.3,150.4 L1661.0,152.0 L1663.6,154.4 L1666.3,156.7 L1669.0,156.4 L1671.6,159.8 L1674.3,162.2 L1677.0,163.1 L1679.7,163.8 L1682.3,164.3 L1685.0,165.6 L1687.7,165.5 L1690.3,165.5 L1693.0,166.9 L1695.7,166.9 L1698.3,166.9 L1701.0,171.2 L1703.7,177.6 L1706.4,180.9 L1709.0,180.4 L1711.7,181.2 L1714.4,180.9 L1717.0,181.0 L1719.7,180.5 L1722.4,180.3 L1725.0,180.3 L1727.7,179.6 L1730.4,179.1 L1733.1,178.0 L1735.7,177.6 L1738.4,176.8 L1741.1,177.0 L1743.7,177.6 L1746.4,178.3 L1749.1,179.5 L1751.7,181.8 L1754.4,185.3 L1757.1,188.9 L1759.8,191.3 L1762.4,193.4 L1765.1,195.3 L1767.8,197.2 L1770.4,198.9 L1773.1,200.3 L1775.8,201.3 L1778.4,201.9 L1781.1,202.0 L1783.8,200.7 L1786.5,199.1 L1789.1,198.3 L1791.8,198.6 L1794.5,199.1 L1797.1,199.5 L1799.8,199.5 L1802.5,199.4 L1805.1,199.3 L1807.8,199.2 L1810.5,199.0 L1813.2,198.9 L1815.8,198.8 L1818.5,198.9 L1821.2,201.3 L1823.8,204.6 L1826.5,209.0 L1829.2,213.3 L1831.8,216.0 L1834.5,218.3 L1837.2,219.5 L1839.9,218.3 L1842.5,214.7 L1845.2,211.4 L1847.9,210.8 L1850.5,210.8 L1853.2,210.8 L1855.9,210.8 L1858.5,211.6 L1861.2,214.4 L1863.9,218.0 L1866.6,221.1 L1869.2,222.7 L1871.9,223.6 L1874.6,224.4 L1877.2,225.5 L1879.9,227.7 L1882.6,231.4 L1885.2,235.8 L1887.9,239.6 L1890.6,241.9 L1893.3,240.9 L1895.9,236.7 L1898.6,234.1 L1901.3,232.9 L1903.9,232.2 L1906.6,232.3 L1909.3,234.0 L1911.9,236.7 L1914.6,239.7 L1917.3,242.1 L1920.0,243.3 L1922.6,243.2 L1925.3,242.9 L1928.0,242.4 L1930.6,241.7 L1933.3,240.9 L1936.0,240.1 L1938.6,239.3 L1941.3,238.1 L1944.0,236.7 L1946.7,235.1 L1949.3,233.4 L1952.0,231.8 L1954.7,230.1 L1957.3,227.9 L1960.0,223.9 L1962.7,213.7 L1965.3,192.2 L1968.0,153.1 L1970.7,120.9 L1973.4,146.5 L1976.0,183.6 L1978.7,213.7 L1981.4,230.5 L1984.0,233.5 L1986.7,234.5 L1989.4,234.3 L1992.0,233.8 L1994.7,233.3 L1997.4,232.9 L2000.1,233.1 L2002.7,235.7 L2005.4,238.4 L2008.1,240.2 L2010.7,241.9 L2013.4,243.0 L2016.1,243.2 L2018.7,241.9 L2021.4,239.8 L2024.1,237.8 L2026.8,237.1 L2029.4,238.2 L2032.1,240.8 L2034.8,244.4 L2037.4,251.3 L2040.1,260.1 L2042.8,270.1 L2045.4,281.5 L2048.1,291.9 L2050.8,302.1 L2053.5,309.9 L2056.1,313.0 L2058.8,313.4 L2061.5,309.0 L2064.1,300.8 L2066.8,285.7 L2069.5,273.7 L2072.1,263.5 L2074.8,256.7 L2077.5,251.5 L2080.2,247.3 L2082.8,244.8 L2085.5,246.1 L2088.2,254.1 L2090.8,262.2 L2093.5,269.7 L2096.2,275.4 L2098.8,277.3 L2101.5,280.2 L2104.2,286.1 L2106.9,286.9 L2109.5,286.2 L2112.2,284.9 L2114.9,282.1 L2117.5,276.1 L2120.2,268.6 L2122.9,258.7 L2125.5,246.1 L2128.2,234.0 L2130.9,220.3 L2133.6,211.1 L2136.2,215.1 L2138.9,228.0 L2141.6,244.8 L2144.2,268.7 L2146.9,283.2 L2149.6,293.0 L2152.2,299.9 L2154.9,305.8 L2157.6,308.8 L2160.3,308.5 L2162.9,307.7 L2165.6,306.8 L2168.3,306.0 L2170.9,305.8 L2173.6,306.7 L2176.3,308.3 L2178.9,309.7 L2181.6,310.3 L2184.3,309.5 L2187.0,307.7 L2189.6,305.4 L2192.3,302.0 L2195.0,298.7 L2197.6,295.8 L2200.3,293.0 L2203.0,290.2 L2205.6,287.6 L2208.3,285.0 L2211.0,282.5 L2213.7,280.1 L2215.7,278.3" stroke="#000080" stroke-width="7.2"/>
</g>
<g fill="none" stroke-width="9.8" stroke-dasharray="40.3 28.8">
<line x1="412.2" y1="36.3" x2="412.2" y2="1225.3" stroke="#5CCDAA"/>
<line x1="692.4" y1="36.3" x2="692.4" y2="1225.3" stroke="#5CCDAA"/>
<line x1="751.6" y1="36.3" x2="751.6" y2="1225.3" stroke="#FFA714"/>
<line x1="925.6" y1="36.3" x2="925.6" y2="1225.3" stroke="#FFA714"/>
<line x1="1719.9" y1="36.3" x2="1719.9" y2="1225.3" stroke="#5CCDAA"/>
</g>
<rect x="117.7" y="22.5" width="2098.0" height="1554.3" fill="none" stroke="#000" stroke-width="6.2"/>
<g stroke="#000" stroke-width="6.2" stroke-linecap="butt">
<line x1="117.7" y1="1576.8" x2="117.7" y2="1608"/>
<line x1="456.0" y1="1576.8" x2="456.0" y2="1608"/>
<line x1="794.4" y1="1576.8" x2="794.4" y2="1608"/>
<line x1="1132.8" y1="1576.8" x2="1132.8" y2="1608"/>
<line x1="1471.1" y1="1576.8" x2="1471.1" y2="1608"/>
<line x1="1809.5" y1="1576.8" x2="1809.5" y2="1608"/>
<line x1="2147.8" y1="1576.8" x2="2147.8" y2="1608"/>
<line x1="286.9" y1="1576.8" x2="286.9" y2="1595"/>
<line x1="625.2" y1="1576.8" x2="625.2" y2="1595"/>
<line x1="963.6" y1="1576.8" x2="963.6" y2="1595"/>
<line x1="1301.9" y1="1576.8" x2="1301.9" y2="1595"/>
<line x1="1640.3" y1="1576.8" x2="1640.3" y2="1595"/>
<line x1="1978.6" y1="1576.8" x2="1978.6" y2="1595"/>
</g>
<text class="tick" transform="translate(117.7,1675.6) scale(0.955,1)">4000</text>
<text class="tick" transform="translate(456.0,1675.6) scale(0.955,1)">3500</text>
<text class="tick" transform="translate(794.4,1675.6) scale(0.955,1)">3000</text>
<text class="tick" transform="translate(1132.8,1675.6) scale(0.955,1)">2500</text>
<text class="tick" transform="translate(1471.1,1675.6) scale(0.955,1)">2000</text>
<text class="tick" transform="translate(1809.5,1675.6) scale(0.955,1)">1500</text>
<text class="tick" transform="translate(2147.8,1675.6) scale(0.955,1)">1000</text>
<text class="axl" y="1786.3" xml:space="preserve"><tspan x="836">Wavenumber</tspan><tspan x="1296.5"> (cm</tspan><tspan x="1445.5" font-size="64" dy="-18.6">−</tspan><tspan x="1481.5" font-size="52" dy="-7.4">1</tspan><tspan x="1516" dy="26">)</tspan></text>
<text class="axl" transform="translate(75,851.5) rotate(-90)" text-anchor="middle">Transmittance</text>
<text class="ann" x="436" y="293.2" fill="#5CCDAA">-OH</text>
<text class="ann" x="1445.6" y="293.2" fill="#5CCDAA">-H<tspan font-size="70" dx="-1" dy="25">2</tspan><tspan dx="-1" dy="-25">O</tspan></text>
<text class="ann" x="959.6" y="480" fill="#FFA714">-NH<tspan font-size="70" dx="-2.5" dy="25">2</tspan></text>
<line x1="157.2" y1="1301.4" x2="336.8" y2="1301.4" stroke="#0000FF" stroke-width="7.6" stroke-linecap="butt"/>
<text class="leg" x="353.0" y="1327.4" xml:space="preserve">Zr<tspan class="cj" dx="18.1" dy="-4.5">：</tspan><tspan dx="-12.6" dy="4.5">Mg = 7</tspan><tspan class="cj" dx="18.1" dy="-4.5">：</tspan><tspan dx="-12.6" dy="4.5">3 (2 times)</tspan></text>
<line x1="157.2" y1="1398.9" x2="336.8" y2="1398.9" stroke="#FF0000" stroke-width="7.6" stroke-linecap="butt"/>
<text class="leg" x="350.0" y="1424.8" xml:space="preserve">Zr<tspan class="cj" dx="18.1" dy="-4.5">：</tspan><tspan dx="-12.6" dy="4.5">Mg = 7</tspan><tspan class="cj" dx="18.1" dy="-4.5">：</tspan><tspan dx="-12.6" dy="4.5">3 (1 times)</tspan></text>
<line x1="157.2" y1="1496.4" x2="336.8" y2="1496.4" stroke="#000000" stroke-width="7.6" stroke-linecap="butt"/>
<text class="leg" x="350.0" y="1522.2" xml:space="preserve">Zr<tspan class="cj" dx="18.1" dy="-4.5">：</tspan><tspan dx="-12.6" dy="4.5">Mg = 7</tspan><tspan class="cj" dx="18.1" dy="-4.5">：</tspan><tspan dx="-12.6" dy="4.5">3</tspan></text>
<line x1="1159.7" y1="1301.4" x2="1340.8" y2="1301.4" stroke="#000080" stroke-width="7.6" stroke-linecap="butt"/>
<text class="leg" x="1352.5" y="1327.4" xml:space="preserve">Zr<tspan class="cj" dx="18.1" dy="-4.5">：</tspan><tspan dx="-12.6" dy="4.5">Mg = 7</tspan><tspan class="cj" dx="18.1" dy="-4.5">：</tspan><tspan dx="-12.6" dy="4.5">3 (5 times)</tspan></text>
<line x1="1156.2" y1="1398.9" x2="1335.8" y2="1398.9" stroke="#008000" stroke-width="7.6" stroke-linecap="butt"/>
<text class="leg" x="1348.8" y="1424.8" xml:space="preserve">Zr<tspan class="cj" dx="18.1" dy="-4.5">：</tspan><tspan dx="-12.6" dy="4.5">Mg = 7</tspan><tspan class="cj" dx="18.1" dy="-4.5">：</tspan><tspan dx="-12.6" dy="4.5">3 (4 times)</tspan></text>
<line x1="1163.2" y1="1496.4" x2="1343.5" y2="1496.4" stroke="#FF00FF" stroke-width="7.6" stroke-linecap="butt"/>
<text class="leg" x="1356.3" y="1522.2" xml:space="preserve">Zr<tspan class="cj" dx="18.1" dy="-4.5">：</tspan><tspan dx="-12.6" dy="4.5">Mg = 7</tspan><tspan class="cj" dx="18.1" dy="-4.5">：</tspan><tspan dx="-12.6" dy="4.5">3 (3 times)</tspan></text>
</svg>
</body>
</html>
